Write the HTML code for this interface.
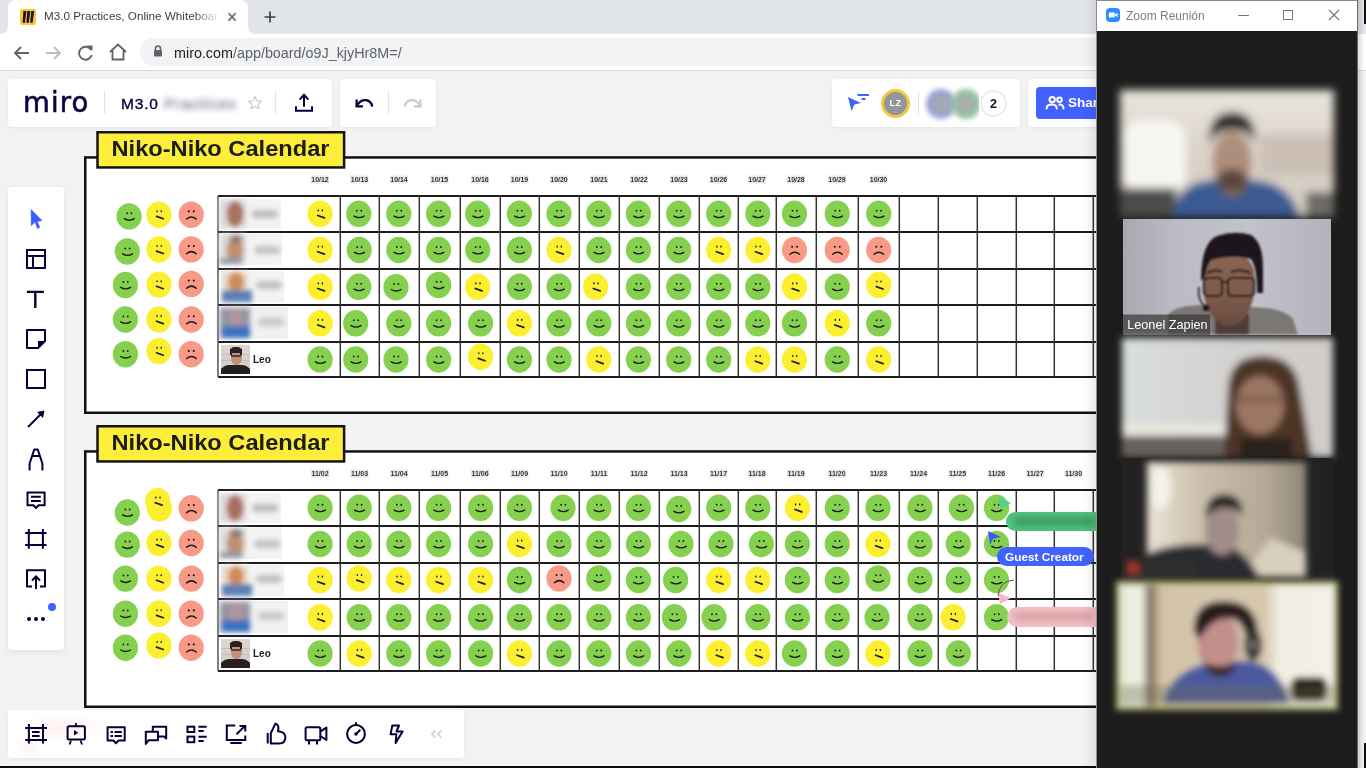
<!DOCTYPE html>
<html><head><meta charset="utf-8"><title>Miro board</title><style>
*{box-sizing:border-box}
html,body{margin:0;padding:0;overflow:hidden}
body{width:1366px;height:768px;overflow:hidden;position:relative;background:#f2f2f2;font-family:"Liberation Sans",Arial,sans-serif}
.a{position:absolute}
.pn{position:absolute;background:#fff;border-radius:4px;box-shadow:0 1px 3px rgba(0,0,0,.06)}
.ic{position:absolute;overflow:visible}
.bl{position:absolute;filter:blur(3px)}
</style></head><body>
<svg width="1366" height="768" style="position:absolute;left:0;top:0"><rect x="85.25" y="157.45" width="1100" height="255.3" fill="#fff" stroke="#111" stroke-width="2.5"/><rect x="97.5" y="132.25" width="246.6" height="35.2" fill="#fcee3b" stroke="#141414" stroke-width="2.5"/><text x="111.5" y="156" font-family="Liberation Sans, sans-serif" font-weight="bold" font-size="21.5" fill="#1c1c18" textLength="218" lengthAdjust="spacingAndGlyphs">Niko-Niko Calendar</text><rect x="311.0" y="175.5" width="18" height="8" fill="#e9e9e9"/><text x="320.0" y="182.3" text-anchor="middle" font-family="Liberation Sans, sans-serif" font-weight="bold" font-size="7" fill="#333">10/12</text><rect x="350.5" y="175.5" width="18" height="8" fill="#e9e9e9"/><text x="359.5" y="182.3" text-anchor="middle" font-family="Liberation Sans, sans-serif" font-weight="bold" font-size="7" fill="#333">10/13</text><rect x="390.0" y="175.5" width="18" height="8" fill="#e9e9e9"/><text x="399.0" y="182.3" text-anchor="middle" font-family="Liberation Sans, sans-serif" font-weight="bold" font-size="7" fill="#333">10/14</text><rect x="430.5" y="175.5" width="18" height="8" fill="#e9e9e9"/><text x="439.5" y="182.3" text-anchor="middle" font-family="Liberation Sans, sans-serif" font-weight="bold" font-size="7" fill="#333">10/15</text><rect x="471.0" y="175.5" width="18" height="8" fill="#e9e9e9"/><text x="480.0" y="182.3" text-anchor="middle" font-family="Liberation Sans, sans-serif" font-weight="bold" font-size="7" fill="#333">10/16</text><rect x="510.5" y="175.5" width="18" height="8" fill="#e9e9e9"/><text x="519.5" y="182.3" text-anchor="middle" font-family="Liberation Sans, sans-serif" font-weight="bold" font-size="7" fill="#333">10/19</text><rect x="550.0" y="175.5" width="18" height="8" fill="#e9e9e9"/><text x="559.0" y="182.3" text-anchor="middle" font-family="Liberation Sans, sans-serif" font-weight="bold" font-size="7" fill="#333">10/20</text><rect x="590.0" y="175.5" width="18" height="8" fill="#e9e9e9"/><text x="599.0" y="182.3" text-anchor="middle" font-family="Liberation Sans, sans-serif" font-weight="bold" font-size="7" fill="#333">10/21</text><rect x="630.0" y="175.5" width="18" height="8" fill="#e9e9e9"/><text x="639.0" y="182.3" text-anchor="middle" font-family="Liberation Sans, sans-serif" font-weight="bold" font-size="7" fill="#333">10/22</text><rect x="670.0" y="175.5" width="18" height="8" fill="#e9e9e9"/><text x="679.0" y="182.3" text-anchor="middle" font-family="Liberation Sans, sans-serif" font-weight="bold" font-size="7" fill="#333">10/23</text><rect x="709.5" y="175.5" width="18" height="8" fill="#e9e9e9"/><text x="718.5" y="182.3" text-anchor="middle" font-family="Liberation Sans, sans-serif" font-weight="bold" font-size="7" fill="#333">10/26</text><rect x="748.0" y="175.5" width="18" height="8" fill="#e9e9e9"/><text x="757.0" y="182.3" text-anchor="middle" font-family="Liberation Sans, sans-serif" font-weight="bold" font-size="7" fill="#333">10/27</text><rect x="787.0" y="175.5" width="18" height="8" fill="#e9e9e9"/><text x="796.0" y="182.3" text-anchor="middle" font-family="Liberation Sans, sans-serif" font-weight="bold" font-size="7" fill="#333">10/28</text><rect x="828.0" y="175.5" width="18" height="8" fill="#e9e9e9"/><text x="837.0" y="182.3" text-anchor="middle" font-family="Liberation Sans, sans-serif" font-weight="bold" font-size="7" fill="#333">10/29</text><rect x="869.5" y="175.5" width="18" height="8" fill="#e9e9e9"/><text x="878.5" y="182.3" text-anchor="middle" font-family="Liberation Sans, sans-serif" font-weight="bold" font-size="7" fill="#333">10/30</text><line x1="218" y1="196" x2="1100" y2="196" stroke="#1c1c1c" stroke-width="1.8"/><line x1="218" y1="232" x2="1100" y2="232" stroke="#1c1c1c" stroke-width="1.8"/><line x1="218" y1="269" x2="1100" y2="269" stroke="#1c1c1c" stroke-width="1.8"/><line x1="218" y1="305" x2="1100" y2="305" stroke="#1c1c1c" stroke-width="1.8"/><line x1="218" y1="342" x2="1100" y2="342" stroke="#1c1c1c" stroke-width="1.8"/><line x1="218" y1="377" x2="1100" y2="377" stroke="#1c1c1c" stroke-width="1.8"/><line x1="218" y1="196" x2="218" y2="377" stroke="#555" stroke-width="1.5"/><line x1="340.3" y1="196" x2="340.3" y2="377" stroke="#333" stroke-width="1.5"/><line x1="379.3" y1="196" x2="379.3" y2="377" stroke="#333" stroke-width="1.5"/><line x1="419.3" y1="196" x2="419.3" y2="377" stroke="#333" stroke-width="1.5"/><line x1="460.3" y1="196" x2="460.3" y2="377" stroke="#333" stroke-width="1.5"/><line x1="500.3" y1="196" x2="500.3" y2="377" stroke="#333" stroke-width="1.5"/><line x1="539.3" y1="196" x2="539.3" y2="377" stroke="#333" stroke-width="1.5"/><line x1="579.3" y1="196" x2="579.3" y2="377" stroke="#333" stroke-width="1.5"/><line x1="619.3" y1="196" x2="619.3" y2="377" stroke="#333" stroke-width="1.5"/><line x1="659.3" y1="196" x2="659.3" y2="377" stroke="#333" stroke-width="1.5"/><line x1="699.3" y1="196" x2="699.3" y2="377" stroke="#333" stroke-width="1.5"/><line x1="738.3" y1="196" x2="738.3" y2="377" stroke="#333" stroke-width="1.5"/><line x1="776.3" y1="196" x2="776.3" y2="377" stroke="#333" stroke-width="1.5"/><line x1="816.3" y1="196" x2="816.3" y2="377" stroke="#333" stroke-width="1.5"/><line x1="858.3" y1="196" x2="858.3" y2="377" stroke="#333" stroke-width="1.5"/><line x1="899.3" y1="196" x2="899.3" y2="377" stroke="#333" stroke-width="1.5"/><line x1="938.3" y1="196" x2="938.3" y2="377" stroke="#333" stroke-width="1.5"/><line x1="977.3" y1="196" x2="977.3" y2="377" stroke="#333" stroke-width="1.5"/><line x1="1016.3" y1="196" x2="1016.3" y2="377" stroke="#333" stroke-width="1.5"/><line x1="1054.3" y1="196" x2="1054.3" y2="377" stroke="#333" stroke-width="1.5"/><line x1="1093.3" y1="196" x2="1093.3" y2="377" stroke="#333" stroke-width="1.5"/><ellipse cx="320.1" cy="213.8" rx="12.6" ry="13.2" fill="#fcef2f"/><ellipse cx="318.3" cy="210.4" rx="0.75" ry="1.05" fill="#1c1c1c"/><ellipse cx="322.4" cy="210.4" rx="0.75" ry="1.05" fill="#1c1c1c"/><path d="M317.7 215.5L324.5 217.9" stroke="#1c1c1c" stroke-width="1.7" fill="none" stroke-linecap="round"/><ellipse cx="358.8" cy="213.8" rx="12.6" ry="13.2" fill="#85d14f"/><ellipse cx="356.8" cy="210.7" rx="0.9" ry="1.0" fill="#1c1c1c"/><ellipse cx="361.2" cy="210.7" rx="0.9" ry="1.0" fill="#1c1c1c"/><path d="M354.1 216.1Q359.0 219.2 364.0 216.1" stroke="#1c1c1c" stroke-width="1.4" fill="none" stroke-linecap="round"/><ellipse cx="398.8" cy="213.8" rx="12.6" ry="13.2" fill="#85d14f"/><ellipse cx="396.8" cy="210.7" rx="0.9" ry="1.0" fill="#1c1c1c"/><ellipse cx="401.2" cy="210.7" rx="0.9" ry="1.0" fill="#1c1c1c"/><path d="M394.1 216.1Q399.0 219.2 404.0 216.1" stroke="#1c1c1c" stroke-width="1.4" fill="none" stroke-linecap="round"/><ellipse cx="438.6" cy="213.8" rx="12.6" ry="13.2" fill="#85d14f"/><ellipse cx="436.6" cy="210.7" rx="0.9" ry="1.0" fill="#1c1c1c"/><ellipse cx="441.0" cy="210.7" rx="0.9" ry="1.0" fill="#1c1c1c"/><path d="M433.9 216.1Q438.8 219.2 443.8 216.1" stroke="#1c1c1c" stroke-width="1.4" fill="none" stroke-linecap="round"/><ellipse cx="477.7" cy="213.8" rx="12.6" ry="13.2" fill="#85d14f"/><ellipse cx="475.7" cy="210.7" rx="0.9" ry="1.0" fill="#1c1c1c"/><ellipse cx="480.1" cy="210.7" rx="0.9" ry="1.0" fill="#1c1c1c"/><path d="M473.0 216.1Q477.9 219.2 482.9 216.1" stroke="#1c1c1c" stroke-width="1.4" fill="none" stroke-linecap="round"/><ellipse cx="519.4" cy="213.8" rx="12.6" ry="13.2" fill="#85d14f"/><ellipse cx="517.4" cy="210.7" rx="0.9" ry="1.0" fill="#1c1c1c"/><ellipse cx="521.8" cy="210.7" rx="0.9" ry="1.0" fill="#1c1c1c"/><path d="M514.7 216.1Q519.6 219.2 524.6 216.1" stroke="#1c1c1c" stroke-width="1.4" fill="none" stroke-linecap="round"/><ellipse cx="559.0" cy="213.8" rx="12.6" ry="13.2" fill="#85d14f"/><ellipse cx="557.0" cy="210.7" rx="0.9" ry="1.0" fill="#1c1c1c"/><ellipse cx="561.4" cy="210.7" rx="0.9" ry="1.0" fill="#1c1c1c"/><path d="M554.3 216.1Q559.2 219.2 564.2 216.1" stroke="#1c1c1c" stroke-width="1.4" fill="none" stroke-linecap="round"/><ellipse cx="598.8" cy="213.8" rx="12.6" ry="13.2" fill="#85d14f"/><ellipse cx="596.8" cy="210.7" rx="0.9" ry="1.0" fill="#1c1c1c"/><ellipse cx="601.2" cy="210.7" rx="0.9" ry="1.0" fill="#1c1c1c"/><path d="M594.1 216.1Q599.0 219.2 604.0 216.1" stroke="#1c1c1c" stroke-width="1.4" fill="none" stroke-linecap="round"/><ellipse cx="638.4" cy="213.8" rx="12.6" ry="13.2" fill="#85d14f"/><ellipse cx="636.4" cy="210.7" rx="0.9" ry="1.0" fill="#1c1c1c"/><ellipse cx="640.8" cy="210.7" rx="0.9" ry="1.0" fill="#1c1c1c"/><path d="M633.7 216.1Q638.6 219.2 643.6 216.1" stroke="#1c1c1c" stroke-width="1.4" fill="none" stroke-linecap="round"/><ellipse cx="678.7" cy="213.8" rx="12.6" ry="13.2" fill="#85d14f"/><ellipse cx="676.7" cy="210.7" rx="0.9" ry="1.0" fill="#1c1c1c"/><ellipse cx="681.1" cy="210.7" rx="0.9" ry="1.0" fill="#1c1c1c"/><path d="M674.0 216.1Q678.9 219.2 683.9 216.1" stroke="#1c1c1c" stroke-width="1.4" fill="none" stroke-linecap="round"/><ellipse cx="718.7" cy="213.8" rx="12.6" ry="13.2" fill="#85d14f"/><ellipse cx="716.7" cy="210.7" rx="0.9" ry="1.0" fill="#1c1c1c"/><ellipse cx="721.1" cy="210.7" rx="0.9" ry="1.0" fill="#1c1c1c"/><path d="M714.0 216.1Q718.9 219.2 723.9 216.1" stroke="#1c1c1c" stroke-width="1.4" fill="none" stroke-linecap="round"/><ellipse cx="757.8" cy="213.8" rx="12.6" ry="13.2" fill="#85d14f"/><ellipse cx="755.8" cy="210.7" rx="0.9" ry="1.0" fill="#1c1c1c"/><ellipse cx="760.2" cy="210.7" rx="0.9" ry="1.0" fill="#1c1c1c"/><path d="M753.1 216.1Q758.0 219.2 763.0 216.1" stroke="#1c1c1c" stroke-width="1.4" fill="none" stroke-linecap="round"/><ellipse cx="794.5" cy="213.8" rx="12.6" ry="13.2" fill="#85d14f"/><ellipse cx="792.5" cy="210.7" rx="0.9" ry="1.0" fill="#1c1c1c"/><ellipse cx="796.9" cy="210.7" rx="0.9" ry="1.0" fill="#1c1c1c"/><path d="M789.8 216.1Q794.7 219.2 799.7 216.1" stroke="#1c1c1c" stroke-width="1.4" fill="none" stroke-linecap="round"/><ellipse cx="837.2" cy="213.8" rx="12.6" ry="13.2" fill="#85d14f"/><ellipse cx="835.2" cy="210.7" rx="0.9" ry="1.0" fill="#1c1c1c"/><ellipse cx="839.6" cy="210.7" rx="0.9" ry="1.0" fill="#1c1c1c"/><path d="M832.5 216.1Q837.4 219.2 842.4 216.1" stroke="#1c1c1c" stroke-width="1.4" fill="none" stroke-linecap="round"/><ellipse cx="878.7" cy="213.8" rx="12.6" ry="13.2" fill="#85d14f"/><ellipse cx="876.7" cy="210.7" rx="0.9" ry="1.0" fill="#1c1c1c"/><ellipse cx="881.1" cy="210.7" rx="0.9" ry="1.0" fill="#1c1c1c"/><path d="M874.0 216.1Q878.9 219.2 883.9 216.1" stroke="#1c1c1c" stroke-width="1.4" fill="none" stroke-linecap="round"/><ellipse cx="320.1" cy="250.0" rx="12.6" ry="13.2" fill="#fcef2f"/><ellipse cx="318.3" cy="246.6" rx="0.75" ry="1.05" fill="#1c1c1c"/><ellipse cx="322.4" cy="246.6" rx="0.75" ry="1.05" fill="#1c1c1c"/><path d="M317.7 251.7L324.5 254.1" stroke="#1c1c1c" stroke-width="1.7" fill="none" stroke-linecap="round"/><ellipse cx="359.2" cy="250.0" rx="12.6" ry="13.2" fill="#85d14f"/><ellipse cx="357.2" cy="246.9" rx="0.9" ry="1.0" fill="#1c1c1c"/><ellipse cx="361.6" cy="246.9" rx="0.9" ry="1.0" fill="#1c1c1c"/><path d="M354.5 252.3Q359.4 255.4 364.4 252.3" stroke="#1c1c1c" stroke-width="1.4" fill="none" stroke-linecap="round"/><ellipse cx="398.8" cy="250.0" rx="12.6" ry="13.2" fill="#85d14f"/><ellipse cx="396.8" cy="246.9" rx="0.9" ry="1.0" fill="#1c1c1c"/><ellipse cx="401.2" cy="246.9" rx="0.9" ry="1.0" fill="#1c1c1c"/><path d="M394.1 252.3Q399.0 255.4 404.0 252.3" stroke="#1c1c1c" stroke-width="1.4" fill="none" stroke-linecap="round"/><ellipse cx="438.6" cy="250.0" rx="12.6" ry="13.2" fill="#85d14f"/><ellipse cx="436.6" cy="246.9" rx="0.9" ry="1.0" fill="#1c1c1c"/><ellipse cx="441.0" cy="246.9" rx="0.9" ry="1.0" fill="#1c1c1c"/><path d="M433.9 252.3Q438.8 255.4 443.8 252.3" stroke="#1c1c1c" stroke-width="1.4" fill="none" stroke-linecap="round"/><ellipse cx="477.7" cy="250.0" rx="12.6" ry="13.2" fill="#85d14f"/><ellipse cx="475.7" cy="246.9" rx="0.9" ry="1.0" fill="#1c1c1c"/><ellipse cx="480.1" cy="246.9" rx="0.9" ry="1.0" fill="#1c1c1c"/><path d="M473.0 252.3Q477.9 255.4 482.9 252.3" stroke="#1c1c1c" stroke-width="1.4" fill="none" stroke-linecap="round"/><ellipse cx="519.4" cy="250.0" rx="12.6" ry="13.2" fill="#85d14f"/><ellipse cx="517.4" cy="246.9" rx="0.9" ry="1.0" fill="#1c1c1c"/><ellipse cx="521.8" cy="246.9" rx="0.9" ry="1.0" fill="#1c1c1c"/><path d="M514.7 252.3Q519.6 255.4 524.6 252.3" stroke="#1c1c1c" stroke-width="1.4" fill="none" stroke-linecap="round"/><ellipse cx="559.0" cy="250.0" rx="12.6" ry="13.2" fill="#fcef2f"/><ellipse cx="557.2" cy="246.6" rx="0.75" ry="1.05" fill="#1c1c1c"/><ellipse cx="561.3" cy="246.6" rx="0.75" ry="1.05" fill="#1c1c1c"/><path d="M556.6 251.7L563.4 254.1" stroke="#1c1c1c" stroke-width="1.7" fill="none" stroke-linecap="round"/><ellipse cx="598.8" cy="250.0" rx="12.6" ry="13.2" fill="#85d14f"/><ellipse cx="596.8" cy="246.9" rx="0.9" ry="1.0" fill="#1c1c1c"/><ellipse cx="601.2" cy="246.9" rx="0.9" ry="1.0" fill="#1c1c1c"/><path d="M594.1 252.3Q599.0 255.4 604.0 252.3" stroke="#1c1c1c" stroke-width="1.4" fill="none" stroke-linecap="round"/><ellipse cx="638.4" cy="250.0" rx="12.6" ry="13.2" fill="#85d14f"/><ellipse cx="636.4" cy="246.9" rx="0.9" ry="1.0" fill="#1c1c1c"/><ellipse cx="640.8" cy="246.9" rx="0.9" ry="1.0" fill="#1c1c1c"/><path d="M633.7 252.3Q638.6 255.4 643.6 252.3" stroke="#1c1c1c" stroke-width="1.4" fill="none" stroke-linecap="round"/><ellipse cx="678.7" cy="250.0" rx="12.6" ry="13.2" fill="#85d14f"/><ellipse cx="676.7" cy="246.9" rx="0.9" ry="1.0" fill="#1c1c1c"/><ellipse cx="681.1" cy="246.9" rx="0.9" ry="1.0" fill="#1c1c1c"/><path d="M674.0 252.3Q678.9 255.4 683.9 252.3" stroke="#1c1c1c" stroke-width="1.4" fill="none" stroke-linecap="round"/><ellipse cx="718.7" cy="250.0" rx="12.6" ry="13.2" fill="#fcef2f"/><ellipse cx="716.9" cy="246.6" rx="0.75" ry="1.05" fill="#1c1c1c"/><ellipse cx="721.0" cy="246.6" rx="0.75" ry="1.05" fill="#1c1c1c"/><path d="M716.3 251.7L723.1 254.1" stroke="#1c1c1c" stroke-width="1.7" fill="none" stroke-linecap="round"/><ellipse cx="757.8" cy="250.0" rx="12.6" ry="13.2" fill="#fcef2f"/><ellipse cx="756.0" cy="246.6" rx="0.75" ry="1.05" fill="#1c1c1c"/><ellipse cx="760.1" cy="246.6" rx="0.75" ry="1.05" fill="#1c1c1c"/><path d="M755.4 251.7L762.2 254.1" stroke="#1c1c1c" stroke-width="1.7" fill="none" stroke-linecap="round"/><ellipse cx="794.5" cy="250.0" rx="12.6" ry="13.2" fill="#f89a87"/><circle cx="792.1" cy="246.7" r="1.05" fill="#1c1c1c"/><circle cx="797.1" cy="246.7" r="1.05" fill="#1c1c1c"/><path d="M789.9 254.3Q794.7 250.2 799.5 254.3" stroke="#1c1c1c" stroke-width="1.5" fill="none" stroke-linecap="round"/><ellipse cx="837.2" cy="250.0" rx="12.6" ry="13.2" fill="#f89a87"/><circle cx="834.8" cy="246.7" r="1.05" fill="#1c1c1c"/><circle cx="839.8" cy="246.7" r="1.05" fill="#1c1c1c"/><path d="M832.6 254.3Q837.4 250.2 842.2 254.3" stroke="#1c1c1c" stroke-width="1.5" fill="none" stroke-linecap="round"/><ellipse cx="878.7" cy="250.0" rx="12.6" ry="13.2" fill="#f89a87"/><circle cx="876.3" cy="246.7" r="1.05" fill="#1c1c1c"/><circle cx="881.3" cy="246.7" r="1.05" fill="#1c1c1c"/><path d="M874.1 254.3Q878.9 250.2 883.7 254.3" stroke="#1c1c1c" stroke-width="1.5" fill="none" stroke-linecap="round"/><ellipse cx="320.1" cy="286.8" rx="12.6" ry="13.2" fill="#fcef2f"/><ellipse cx="318.3" cy="283.4" rx="0.75" ry="1.05" fill="#1c1c1c"/><ellipse cx="322.4" cy="283.4" rx="0.75" ry="1.05" fill="#1c1c1c"/><path d="M317.7 288.5L324.5 290.9" stroke="#1c1c1c" stroke-width="1.7" fill="none" stroke-linecap="round"/><ellipse cx="358.8" cy="286.8" rx="12.6" ry="13.2" fill="#85d14f"/><ellipse cx="356.8" cy="283.7" rx="0.9" ry="1.0" fill="#1c1c1c"/><ellipse cx="361.2" cy="283.7" rx="0.9" ry="1.0" fill="#1c1c1c"/><path d="M354.1 289.1Q359.0 292.2 364.0 289.1" stroke="#1c1c1c" stroke-width="1.4" fill="none" stroke-linecap="round"/><ellipse cx="396.0" cy="287.2" rx="12.6" ry="13.2" fill="#85d14f"/><ellipse cx="394.0" cy="284.1" rx="0.9" ry="1.0" fill="#1c1c1c"/><ellipse cx="398.4" cy="284.1" rx="0.9" ry="1.0" fill="#1c1c1c"/><path d="M391.3 289.5Q396.2 292.6 401.2 289.5" stroke="#1c1c1c" stroke-width="1.4" fill="none" stroke-linecap="round"/><ellipse cx="438.6" cy="284.9" rx="12.6" ry="13.2" fill="#85d14f"/><ellipse cx="436.6" cy="281.8" rx="0.9" ry="1.0" fill="#1c1c1c"/><ellipse cx="441.0" cy="281.8" rx="0.9" ry="1.0" fill="#1c1c1c"/><path d="M433.9 287.2Q438.8 290.3 443.8 287.2" stroke="#1c1c1c" stroke-width="1.4" fill="none" stroke-linecap="round"/><ellipse cx="477.7" cy="286.8" rx="12.6" ry="13.2" fill="#fcef2f"/><ellipse cx="475.9" cy="283.4" rx="0.75" ry="1.05" fill="#1c1c1c"/><ellipse cx="480.0" cy="283.4" rx="0.75" ry="1.05" fill="#1c1c1c"/><path d="M475.3 288.5L482.1 290.9" stroke="#1c1c1c" stroke-width="1.7" fill="none" stroke-linecap="round"/><ellipse cx="519.4" cy="286.8" rx="12.6" ry="13.2" fill="#85d14f"/><ellipse cx="517.4" cy="283.7" rx="0.9" ry="1.0" fill="#1c1c1c"/><ellipse cx="521.8" cy="283.7" rx="0.9" ry="1.0" fill="#1c1c1c"/><path d="M514.7 289.1Q519.6 292.2 524.6 289.1" stroke="#1c1c1c" stroke-width="1.4" fill="none" stroke-linecap="round"/><ellipse cx="559.0" cy="286.8" rx="12.6" ry="13.2" fill="#85d14f"/><ellipse cx="557.0" cy="283.7" rx="0.9" ry="1.0" fill="#1c1c1c"/><ellipse cx="561.4" cy="283.7" rx="0.9" ry="1.0" fill="#1c1c1c"/><path d="M554.3 289.1Q559.2 292.2 564.2 289.1" stroke="#1c1c1c" stroke-width="1.4" fill="none" stroke-linecap="round"/><ellipse cx="595.7" cy="286.8" rx="12.6" ry="13.2" fill="#fcef2f"/><ellipse cx="593.9" cy="283.4" rx="0.75" ry="1.05" fill="#1c1c1c"/><ellipse cx="598.0" cy="283.4" rx="0.75" ry="1.05" fill="#1c1c1c"/><path d="M593.3 288.5L600.1 290.9" stroke="#1c1c1c" stroke-width="1.7" fill="none" stroke-linecap="round"/><ellipse cx="638.4" cy="286.8" rx="12.6" ry="13.2" fill="#85d14f"/><ellipse cx="636.4" cy="283.7" rx="0.9" ry="1.0" fill="#1c1c1c"/><ellipse cx="640.8" cy="283.7" rx="0.9" ry="1.0" fill="#1c1c1c"/><path d="M633.7 289.1Q638.6 292.2 643.6 289.1" stroke="#1c1c1c" stroke-width="1.4" fill="none" stroke-linecap="round"/><ellipse cx="678.7" cy="286.8" rx="12.6" ry="13.2" fill="#85d14f"/><ellipse cx="676.7" cy="283.7" rx="0.9" ry="1.0" fill="#1c1c1c"/><ellipse cx="681.1" cy="283.7" rx="0.9" ry="1.0" fill="#1c1c1c"/><path d="M674.0 289.1Q678.9 292.2 683.9 289.1" stroke="#1c1c1c" stroke-width="1.4" fill="none" stroke-linecap="round"/><ellipse cx="718.7" cy="286.8" rx="12.6" ry="13.2" fill="#85d14f"/><ellipse cx="716.7" cy="283.7" rx="0.9" ry="1.0" fill="#1c1c1c"/><ellipse cx="721.1" cy="283.7" rx="0.9" ry="1.0" fill="#1c1c1c"/><path d="M714.0 289.1Q718.9 292.2 723.9 289.1" stroke="#1c1c1c" stroke-width="1.4" fill="none" stroke-linecap="round"/><ellipse cx="757.8" cy="286.8" rx="12.6" ry="13.2" fill="#85d14f"/><ellipse cx="755.8" cy="283.7" rx="0.9" ry="1.0" fill="#1c1c1c"/><ellipse cx="760.2" cy="283.7" rx="0.9" ry="1.0" fill="#1c1c1c"/><path d="M753.1 289.1Q758.0 292.2 763.0 289.1" stroke="#1c1c1c" stroke-width="1.4" fill="none" stroke-linecap="round"/><ellipse cx="794.5" cy="286.8" rx="12.6" ry="13.2" fill="#fcef2f"/><ellipse cx="792.7" cy="283.4" rx="0.75" ry="1.05" fill="#1c1c1c"/><ellipse cx="796.8" cy="283.4" rx="0.75" ry="1.05" fill="#1c1c1c"/><path d="M792.1 288.5L798.9 290.9" stroke="#1c1c1c" stroke-width="1.7" fill="none" stroke-linecap="round"/><ellipse cx="837.2" cy="286.8" rx="12.6" ry="13.2" fill="#85d14f"/><ellipse cx="835.2" cy="283.7" rx="0.9" ry="1.0" fill="#1c1c1c"/><ellipse cx="839.6" cy="283.7" rx="0.9" ry="1.0" fill="#1c1c1c"/><path d="M832.5 289.1Q837.4 292.2 842.4 289.1" stroke="#1c1c1c" stroke-width="1.4" fill="none" stroke-linecap="round"/><ellipse cx="878.7" cy="284.9" rx="12.6" ry="13.2" fill="#fcef2f"/><ellipse cx="876.9" cy="281.5" rx="0.75" ry="1.05" fill="#1c1c1c"/><ellipse cx="881.0" cy="281.5" rx="0.75" ry="1.05" fill="#1c1c1c"/><path d="M876.3 286.6L883.1 289.0" stroke="#1c1c1c" stroke-width="1.7" fill="none" stroke-linecap="round"/><ellipse cx="320.1" cy="323.3" rx="12.6" ry="13.2" fill="#fcef2f"/><ellipse cx="318.3" cy="319.9" rx="0.75" ry="1.05" fill="#1c1c1c"/><ellipse cx="322.4" cy="319.9" rx="0.75" ry="1.05" fill="#1c1c1c"/><path d="M317.7 325.0L324.5 327.4" stroke="#1c1c1c" stroke-width="1.7" fill="none" stroke-linecap="round"/><ellipse cx="355.7" cy="323.3" rx="12.6" ry="13.2" fill="#85d14f"/><ellipse cx="353.7" cy="320.2" rx="0.9" ry="1.0" fill="#1c1c1c"/><ellipse cx="358.1" cy="320.2" rx="0.9" ry="1.0" fill="#1c1c1c"/><path d="M351.0 325.6Q355.9 328.7 360.9 325.6" stroke="#1c1c1c" stroke-width="1.4" fill="none" stroke-linecap="round"/><ellipse cx="398.8" cy="323.3" rx="12.6" ry="13.2" fill="#85d14f"/><ellipse cx="396.8" cy="320.2" rx="0.9" ry="1.0" fill="#1c1c1c"/><ellipse cx="401.2" cy="320.2" rx="0.9" ry="1.0" fill="#1c1c1c"/><path d="M394.1 325.6Q399.0 328.7 404.0 325.6" stroke="#1c1c1c" stroke-width="1.4" fill="none" stroke-linecap="round"/><ellipse cx="438.6" cy="323.3" rx="12.6" ry="13.2" fill="#85d14f"/><ellipse cx="436.6" cy="320.2" rx="0.9" ry="1.0" fill="#1c1c1c"/><ellipse cx="441.0" cy="320.2" rx="0.9" ry="1.0" fill="#1c1c1c"/><path d="M433.9 325.6Q438.8 328.7 443.8 325.6" stroke="#1c1c1c" stroke-width="1.4" fill="none" stroke-linecap="round"/><ellipse cx="480.6" cy="323.3" rx="12.6" ry="13.2" fill="#85d14f"/><ellipse cx="478.6" cy="320.2" rx="0.9" ry="1.0" fill="#1c1c1c"/><ellipse cx="483.0" cy="320.2" rx="0.9" ry="1.0" fill="#1c1c1c"/><path d="M475.9 325.6Q480.8 328.7 485.8 325.6" stroke="#1c1c1c" stroke-width="1.4" fill="none" stroke-linecap="round"/><ellipse cx="519.4" cy="323.3" rx="12.6" ry="13.2" fill="#fcef2f"/><ellipse cx="517.6" cy="319.9" rx="0.75" ry="1.05" fill="#1c1c1c"/><ellipse cx="521.7" cy="319.9" rx="0.75" ry="1.05" fill="#1c1c1c"/><path d="M517.0 325.0L523.8 327.4" stroke="#1c1c1c" stroke-width="1.7" fill="none" stroke-linecap="round"/><ellipse cx="559.0" cy="323.3" rx="12.6" ry="13.2" fill="#85d14f"/><ellipse cx="557.0" cy="320.2" rx="0.9" ry="1.0" fill="#1c1c1c"/><ellipse cx="561.4" cy="320.2" rx="0.9" ry="1.0" fill="#1c1c1c"/><path d="M554.3 325.6Q559.2 328.7 564.2 325.6" stroke="#1c1c1c" stroke-width="1.4" fill="none" stroke-linecap="round"/><ellipse cx="598.8" cy="323.3" rx="12.6" ry="13.2" fill="#85d14f"/><ellipse cx="596.8" cy="320.2" rx="0.9" ry="1.0" fill="#1c1c1c"/><ellipse cx="601.2" cy="320.2" rx="0.9" ry="1.0" fill="#1c1c1c"/><path d="M594.1 325.6Q599.0 328.7 604.0 325.6" stroke="#1c1c1c" stroke-width="1.4" fill="none" stroke-linecap="round"/><ellipse cx="638.4" cy="323.3" rx="12.6" ry="13.2" fill="#85d14f"/><ellipse cx="636.4" cy="320.2" rx="0.9" ry="1.0" fill="#1c1c1c"/><ellipse cx="640.8" cy="320.2" rx="0.9" ry="1.0" fill="#1c1c1c"/><path d="M633.7 325.6Q638.6 328.7 643.6 325.6" stroke="#1c1c1c" stroke-width="1.4" fill="none" stroke-linecap="round"/><ellipse cx="678.7" cy="323.3" rx="12.6" ry="13.2" fill="#85d14f"/><ellipse cx="676.7" cy="320.2" rx="0.9" ry="1.0" fill="#1c1c1c"/><ellipse cx="681.1" cy="320.2" rx="0.9" ry="1.0" fill="#1c1c1c"/><path d="M674.0 325.6Q678.9 328.7 683.9 325.6" stroke="#1c1c1c" stroke-width="1.4" fill="none" stroke-linecap="round"/><ellipse cx="718.7" cy="323.3" rx="12.6" ry="13.2" fill="#85d14f"/><ellipse cx="716.7" cy="320.2" rx="0.9" ry="1.0" fill="#1c1c1c"/><ellipse cx="721.1" cy="320.2" rx="0.9" ry="1.0" fill="#1c1c1c"/><path d="M714.0 325.6Q718.9 328.7 723.9 325.6" stroke="#1c1c1c" stroke-width="1.4" fill="none" stroke-linecap="round"/><ellipse cx="757.8" cy="323.3" rx="12.6" ry="13.2" fill="#85d14f"/><ellipse cx="755.8" cy="320.2" rx="0.9" ry="1.0" fill="#1c1c1c"/><ellipse cx="760.2" cy="320.2" rx="0.9" ry="1.0" fill="#1c1c1c"/><path d="M753.1 325.6Q758.0 328.7 763.0 325.6" stroke="#1c1c1c" stroke-width="1.4" fill="none" stroke-linecap="round"/><ellipse cx="794.5" cy="323.3" rx="12.6" ry="13.2" fill="#85d14f"/><ellipse cx="792.5" cy="320.2" rx="0.9" ry="1.0" fill="#1c1c1c"/><ellipse cx="796.9" cy="320.2" rx="0.9" ry="1.0" fill="#1c1c1c"/><path d="M789.8 325.6Q794.7 328.7 799.7 325.6" stroke="#1c1c1c" stroke-width="1.4" fill="none" stroke-linecap="round"/><ellipse cx="837.2" cy="323.3" rx="12.6" ry="13.2" fill="#fcef2f"/><ellipse cx="835.4" cy="319.9" rx="0.75" ry="1.05" fill="#1c1c1c"/><ellipse cx="839.5" cy="319.9" rx="0.75" ry="1.05" fill="#1c1c1c"/><path d="M834.8 325.0L841.6 327.4" stroke="#1c1c1c" stroke-width="1.7" fill="none" stroke-linecap="round"/><ellipse cx="878.7" cy="323.3" rx="12.6" ry="13.2" fill="#85d14f"/><ellipse cx="876.7" cy="320.2" rx="0.9" ry="1.0" fill="#1c1c1c"/><ellipse cx="881.1" cy="320.2" rx="0.9" ry="1.0" fill="#1c1c1c"/><path d="M874.0 325.6Q878.9 328.7 883.9 325.6" stroke="#1c1c1c" stroke-width="1.4" fill="none" stroke-linecap="round"/><ellipse cx="320.1" cy="359.5" rx="12.6" ry="13.2" fill="#85d14f"/><ellipse cx="318.1" cy="356.4" rx="0.9" ry="1.0" fill="#1c1c1c"/><ellipse cx="322.5" cy="356.4" rx="0.9" ry="1.0" fill="#1c1c1c"/><path d="M315.4 361.8Q320.3 364.9 325.3 361.8" stroke="#1c1c1c" stroke-width="1.4" fill="none" stroke-linecap="round"/><ellipse cx="355.7" cy="359.5" rx="12.6" ry="13.2" fill="#85d14f"/><ellipse cx="353.7" cy="356.4" rx="0.9" ry="1.0" fill="#1c1c1c"/><ellipse cx="358.1" cy="356.4" rx="0.9" ry="1.0" fill="#1c1c1c"/><path d="M351.0 361.8Q355.9 364.9 360.9 361.8" stroke="#1c1c1c" stroke-width="1.4" fill="none" stroke-linecap="round"/><ellipse cx="396.0" cy="359.5" rx="12.6" ry="13.2" fill="#85d14f"/><ellipse cx="394.0" cy="356.4" rx="0.9" ry="1.0" fill="#1c1c1c"/><ellipse cx="398.4" cy="356.4" rx="0.9" ry="1.0" fill="#1c1c1c"/><path d="M391.3 361.8Q396.2 364.9 401.2 361.8" stroke="#1c1c1c" stroke-width="1.4" fill="none" stroke-linecap="round"/><ellipse cx="438.6" cy="359.5" rx="12.6" ry="13.2" fill="#85d14f"/><ellipse cx="436.6" cy="356.4" rx="0.9" ry="1.0" fill="#1c1c1c"/><ellipse cx="441.0" cy="356.4" rx="0.9" ry="1.0" fill="#1c1c1c"/><path d="M433.9 361.8Q438.8 364.9 443.8 361.8" stroke="#1c1c1c" stroke-width="1.4" fill="none" stroke-linecap="round"/><ellipse cx="480.6" cy="356.7" rx="12.6" ry="13.2" fill="#fcef2f"/><ellipse cx="478.8" cy="353.3" rx="0.75" ry="1.05" fill="#1c1c1c"/><ellipse cx="482.9" cy="353.3" rx="0.75" ry="1.05" fill="#1c1c1c"/><path d="M478.2 358.4L485.0 360.8" stroke="#1c1c1c" stroke-width="1.7" fill="none" stroke-linecap="round"/><ellipse cx="519.4" cy="359.5" rx="12.6" ry="13.2" fill="#85d14f"/><ellipse cx="517.4" cy="356.4" rx="0.9" ry="1.0" fill="#1c1c1c"/><ellipse cx="521.8" cy="356.4" rx="0.9" ry="1.0" fill="#1c1c1c"/><path d="M514.7 361.8Q519.6 364.9 524.6 361.8" stroke="#1c1c1c" stroke-width="1.4" fill="none" stroke-linecap="round"/><ellipse cx="559.0" cy="359.5" rx="12.6" ry="13.2" fill="#85d14f"/><ellipse cx="557.0" cy="356.4" rx="0.9" ry="1.0" fill="#1c1c1c"/><ellipse cx="561.4" cy="356.4" rx="0.9" ry="1.0" fill="#1c1c1c"/><path d="M554.3 361.8Q559.2 364.9 564.2 361.8" stroke="#1c1c1c" stroke-width="1.4" fill="none" stroke-linecap="round"/><ellipse cx="598.8" cy="359.5" rx="12.6" ry="13.2" fill="#fcef2f"/><ellipse cx="597.0" cy="356.1" rx="0.75" ry="1.05" fill="#1c1c1c"/><ellipse cx="601.1" cy="356.1" rx="0.75" ry="1.05" fill="#1c1c1c"/><path d="M596.4 361.2L603.2 363.6" stroke="#1c1c1c" stroke-width="1.7" fill="none" stroke-linecap="round"/><ellipse cx="638.4" cy="359.5" rx="12.6" ry="13.2" fill="#85d14f"/><ellipse cx="636.4" cy="356.4" rx="0.9" ry="1.0" fill="#1c1c1c"/><ellipse cx="640.8" cy="356.4" rx="0.9" ry="1.0" fill="#1c1c1c"/><path d="M633.7 361.8Q638.6 364.9 643.6 361.8" stroke="#1c1c1c" stroke-width="1.4" fill="none" stroke-linecap="round"/><ellipse cx="678.7" cy="359.5" rx="12.6" ry="13.2" fill="#85d14f"/><ellipse cx="676.7" cy="356.4" rx="0.9" ry="1.0" fill="#1c1c1c"/><ellipse cx="681.1" cy="356.4" rx="0.9" ry="1.0" fill="#1c1c1c"/><path d="M674.0 361.8Q678.9 364.9 683.9 361.8" stroke="#1c1c1c" stroke-width="1.4" fill="none" stroke-linecap="round"/><ellipse cx="718.7" cy="359.5" rx="12.6" ry="13.2" fill="#85d14f"/><ellipse cx="716.7" cy="356.4" rx="0.9" ry="1.0" fill="#1c1c1c"/><ellipse cx="721.1" cy="356.4" rx="0.9" ry="1.0" fill="#1c1c1c"/><path d="M714.0 361.8Q718.9 364.9 723.9 361.8" stroke="#1c1c1c" stroke-width="1.4" fill="none" stroke-linecap="round"/><ellipse cx="757.8" cy="359.5" rx="12.6" ry="13.2" fill="#fcef2f"/><ellipse cx="756.0" cy="356.1" rx="0.75" ry="1.05" fill="#1c1c1c"/><ellipse cx="760.1" cy="356.1" rx="0.75" ry="1.05" fill="#1c1c1c"/><path d="M755.4 361.2L762.2 363.6" stroke="#1c1c1c" stroke-width="1.7" fill="none" stroke-linecap="round"/><ellipse cx="794.5" cy="359.5" rx="12.6" ry="13.2" fill="#fcef2f"/><ellipse cx="792.7" cy="356.1" rx="0.75" ry="1.05" fill="#1c1c1c"/><ellipse cx="796.8" cy="356.1" rx="0.75" ry="1.05" fill="#1c1c1c"/><path d="M792.1 361.2L798.9 363.6" stroke="#1c1c1c" stroke-width="1.7" fill="none" stroke-linecap="round"/><ellipse cx="837.2" cy="359.5" rx="12.6" ry="13.2" fill="#85d14f"/><ellipse cx="835.2" cy="356.4" rx="0.9" ry="1.0" fill="#1c1c1c"/><ellipse cx="839.6" cy="356.4" rx="0.9" ry="1.0" fill="#1c1c1c"/><path d="M832.5 361.8Q837.4 364.9 842.4 361.8" stroke="#1c1c1c" stroke-width="1.4" fill="none" stroke-linecap="round"/><ellipse cx="878.7" cy="359.5" rx="12.6" ry="13.2" fill="#fcef2f"/><ellipse cx="876.9" cy="356.1" rx="0.75" ry="1.05" fill="#1c1c1c"/><ellipse cx="881.0" cy="356.1" rx="0.75" ry="1.05" fill="#1c1c1c"/><path d="M876.3 361.2L883.1 363.6" stroke="#1c1c1c" stroke-width="1.7" fill="none" stroke-linecap="round"/><ellipse cx="129.1" cy="216.4" rx="12.6" ry="13.2" fill="#85d14f"/><ellipse cx="127.1" cy="213.3" rx="0.9" ry="1.0" fill="#1c1c1c"/><ellipse cx="131.5" cy="213.3" rx="0.9" ry="1.0" fill="#1c1c1c"/><path d="M124.4 218.7Q129.3 221.8 134.3 218.7" stroke="#1c1c1c" stroke-width="1.4" fill="none" stroke-linecap="round"/><ellipse cx="158.9" cy="214.7" rx="12.6" ry="13.2" fill="#fcef2f"/><ellipse cx="157.1" cy="211.3" rx="0.75" ry="1.05" fill="#1c1c1c"/><ellipse cx="161.2" cy="211.3" rx="0.75" ry="1.05" fill="#1c1c1c"/><path d="M156.5 216.4L163.3 218.8" stroke="#1c1c1c" stroke-width="1.7" fill="none" stroke-linecap="round"/><ellipse cx="191.2" cy="214.7" rx="12.6" ry="13.2" fill="#f89a87"/><circle cx="188.8" cy="211.4" r="1.05" fill="#1c1c1c"/><circle cx="193.8" cy="211.4" r="1.05" fill="#1c1c1c"/><path d="M186.6 219.0Q191.4 214.9 196.2 219.0" stroke="#1c1c1c" stroke-width="1.5" fill="none" stroke-linecap="round"/><ellipse cx="127.3" cy="251.5" rx="12.6" ry="13.2" fill="#85d14f"/><ellipse cx="125.3" cy="248.4" rx="0.9" ry="1.0" fill="#1c1c1c"/><ellipse cx="129.7" cy="248.4" rx="0.9" ry="1.0" fill="#1c1c1c"/><path d="M122.6 253.8Q127.5 256.9 132.5 253.8" stroke="#1c1c1c" stroke-width="1.4" fill="none" stroke-linecap="round"/><ellipse cx="158.9" cy="249.4" rx="12.6" ry="13.2" fill="#fcef2f"/><ellipse cx="157.1" cy="246.0" rx="0.75" ry="1.05" fill="#1c1c1c"/><ellipse cx="161.2" cy="246.0" rx="0.75" ry="1.05" fill="#1c1c1c"/><path d="M156.5 251.1L163.3 253.5" stroke="#1c1c1c" stroke-width="1.7" fill="none" stroke-linecap="round"/><ellipse cx="191.2" cy="249.4" rx="12.6" ry="13.2" fill="#f89a87"/><circle cx="188.8" cy="246.1" r="1.05" fill="#1c1c1c"/><circle cx="193.8" cy="246.1" r="1.05" fill="#1c1c1c"/><path d="M186.6 253.7Q191.4 249.6 196.2 253.7" stroke="#1c1c1c" stroke-width="1.5" fill="none" stroke-linecap="round"/><ellipse cx="125.4" cy="285.0" rx="12.6" ry="13.2" fill="#85d14f"/><ellipse cx="123.4" cy="281.9" rx="0.9" ry="1.0" fill="#1c1c1c"/><ellipse cx="127.8" cy="281.9" rx="0.9" ry="1.0" fill="#1c1c1c"/><path d="M120.7 287.3Q125.6 290.4 130.6 287.3" stroke="#1c1c1c" stroke-width="1.4" fill="none" stroke-linecap="round"/><ellipse cx="158.9" cy="284.6" rx="12.6" ry="13.2" fill="#fcef2f"/><ellipse cx="157.1" cy="281.2" rx="0.75" ry="1.05" fill="#1c1c1c"/><ellipse cx="161.2" cy="281.2" rx="0.75" ry="1.05" fill="#1c1c1c"/><path d="M156.5 286.3L163.3 288.7" stroke="#1c1c1c" stroke-width="1.7" fill="none" stroke-linecap="round"/><ellipse cx="191.2" cy="283.9" rx="12.6" ry="13.2" fill="#f89a87"/><circle cx="188.8" cy="280.6" r="1.05" fill="#1c1c1c"/><circle cx="193.8" cy="280.6" r="1.05" fill="#1c1c1c"/><path d="M186.6 288.2Q191.4 284.1 196.2 288.2" stroke="#1c1c1c" stroke-width="1.5" fill="none" stroke-linecap="round"/><ellipse cx="125.4" cy="319.5" rx="12.6" ry="13.2" fill="#85d14f"/><ellipse cx="123.4" cy="316.4" rx="0.9" ry="1.0" fill="#1c1c1c"/><ellipse cx="127.8" cy="316.4" rx="0.9" ry="1.0" fill="#1c1c1c"/><path d="M120.7 321.8Q125.6 324.9 130.6 321.8" stroke="#1c1c1c" stroke-width="1.4" fill="none" stroke-linecap="round"/><ellipse cx="158.9" cy="319.5" rx="12.6" ry="13.2" fill="#fcef2f"/><ellipse cx="157.1" cy="316.1" rx="0.75" ry="1.05" fill="#1c1c1c"/><ellipse cx="161.2" cy="316.1" rx="0.75" ry="1.05" fill="#1c1c1c"/><path d="M156.5 321.2L163.3 323.6" stroke="#1c1c1c" stroke-width="1.7" fill="none" stroke-linecap="round"/><ellipse cx="191.2" cy="319.5" rx="12.6" ry="13.2" fill="#f89a87"/><circle cx="188.8" cy="316.2" r="1.05" fill="#1c1c1c"/><circle cx="193.8" cy="316.2" r="1.05" fill="#1c1c1c"/><path d="M186.6 323.8Q191.4 319.7 196.2 323.8" stroke="#1c1c1c" stroke-width="1.5" fill="none" stroke-linecap="round"/><ellipse cx="125.4" cy="354.2" rx="12.6" ry="13.2" fill="#85d14f"/><ellipse cx="123.4" cy="351.1" rx="0.9" ry="1.0" fill="#1c1c1c"/><ellipse cx="127.8" cy="351.1" rx="0.9" ry="1.0" fill="#1c1c1c"/><path d="M120.7 356.5Q125.6 359.6 130.6 356.5" stroke="#1c1c1c" stroke-width="1.4" fill="none" stroke-linecap="round"/><ellipse cx="158.9" cy="351.1" rx="12.6" ry="13.2" fill="#fcef2f"/><ellipse cx="157.1" cy="347.7" rx="0.75" ry="1.05" fill="#1c1c1c"/><ellipse cx="161.2" cy="347.7" rx="0.75" ry="1.05" fill="#1c1c1c"/><path d="M156.5 352.8L163.3 355.2" stroke="#1c1c1c" stroke-width="1.7" fill="none" stroke-linecap="round"/><ellipse cx="191.2" cy="354.2" rx="12.6" ry="13.2" fill="#f89a87"/><circle cx="188.8" cy="350.9" r="1.05" fill="#1c1c1c"/><circle cx="193.8" cy="350.9" r="1.05" fill="#1c1c1c"/><path d="M186.6 358.5Q191.4 354.4 196.2 358.5" stroke="#1c1c1c" stroke-width="1.5" fill="none" stroke-linecap="round"/><rect x="85.25" y="451.45" width="1100" height="255.3" fill="#fff" stroke="#111" stroke-width="2.5"/><rect x="97.5" y="426.25" width="246.6" height="35.2" fill="#fcee3b" stroke="#141414" stroke-width="2.5"/><text x="111.5" y="450" font-family="Liberation Sans, sans-serif" font-weight="bold" font-size="21.5" fill="#1c1c18" textLength="218" lengthAdjust="spacingAndGlyphs">Niko-Niko Calendar</text><rect x="311.0" y="469.5" width="18" height="8" fill="#e9e9e9"/><text x="320.0" y="476.3" text-anchor="middle" font-family="Liberation Sans, sans-serif" font-weight="bold" font-size="7" fill="#333">11/02</text><rect x="350.5" y="469.5" width="18" height="8" fill="#e9e9e9"/><text x="359.5" y="476.3" text-anchor="middle" font-family="Liberation Sans, sans-serif" font-weight="bold" font-size="7" fill="#333">11/03</text><rect x="390.0" y="469.5" width="18" height="8" fill="#e9e9e9"/><text x="399.0" y="476.3" text-anchor="middle" font-family="Liberation Sans, sans-serif" font-weight="bold" font-size="7" fill="#333">11/04</text><rect x="430.5" y="469.5" width="18" height="8" fill="#e9e9e9"/><text x="439.5" y="476.3" text-anchor="middle" font-family="Liberation Sans, sans-serif" font-weight="bold" font-size="7" fill="#333">11/05</text><rect x="471.0" y="469.5" width="18" height="8" fill="#e9e9e9"/><text x="480.0" y="476.3" text-anchor="middle" font-family="Liberation Sans, sans-serif" font-weight="bold" font-size="7" fill="#333">11/06</text><rect x="510.5" y="469.5" width="18" height="8" fill="#e9e9e9"/><text x="519.5" y="476.3" text-anchor="middle" font-family="Liberation Sans, sans-serif" font-weight="bold" font-size="7" fill="#333">11/09</text><rect x="550.0" y="469.5" width="18" height="8" fill="#e9e9e9"/><text x="559.0" y="476.3" text-anchor="middle" font-family="Liberation Sans, sans-serif" font-weight="bold" font-size="7" fill="#333">11/10</text><rect x="590.0" y="469.5" width="18" height="8" fill="#e9e9e9"/><text x="599.0" y="476.3" text-anchor="middle" font-family="Liberation Sans, sans-serif" font-weight="bold" font-size="7" fill="#333">11/11</text><rect x="630.0" y="469.5" width="18" height="8" fill="#e9e9e9"/><text x="639.0" y="476.3" text-anchor="middle" font-family="Liberation Sans, sans-serif" font-weight="bold" font-size="7" fill="#333">11/12</text><rect x="670.0" y="469.5" width="18" height="8" fill="#e9e9e9"/><text x="679.0" y="476.3" text-anchor="middle" font-family="Liberation Sans, sans-serif" font-weight="bold" font-size="7" fill="#333">11/13</text><rect x="709.5" y="469.5" width="18" height="8" fill="#e9e9e9"/><text x="718.5" y="476.3" text-anchor="middle" font-family="Liberation Sans, sans-serif" font-weight="bold" font-size="7" fill="#333">11/17</text><rect x="748.0" y="469.5" width="18" height="8" fill="#e9e9e9"/><text x="757.0" y="476.3" text-anchor="middle" font-family="Liberation Sans, sans-serif" font-weight="bold" font-size="7" fill="#333">11/18</text><rect x="787.0" y="469.5" width="18" height="8" fill="#e9e9e9"/><text x="796.0" y="476.3" text-anchor="middle" font-family="Liberation Sans, sans-serif" font-weight="bold" font-size="7" fill="#333">11/19</text><rect x="828.0" y="469.5" width="18" height="8" fill="#e9e9e9"/><text x="837.0" y="476.3" text-anchor="middle" font-family="Liberation Sans, sans-serif" font-weight="bold" font-size="7" fill="#333">11/20</text><rect x="869.5" y="469.5" width="18" height="8" fill="#e9e9e9"/><text x="878.5" y="476.3" text-anchor="middle" font-family="Liberation Sans, sans-serif" font-weight="bold" font-size="7" fill="#333">11/23</text><rect x="909.5" y="469.5" width="18" height="8" fill="#e9e9e9"/><text x="918.5" y="476.3" text-anchor="middle" font-family="Liberation Sans, sans-serif" font-weight="bold" font-size="7" fill="#333">11/24</text><rect x="948.5" y="469.5" width="18" height="8" fill="#e9e9e9"/><text x="957.5" y="476.3" text-anchor="middle" font-family="Liberation Sans, sans-serif" font-weight="bold" font-size="7" fill="#333">11/25</text><rect x="987.5" y="469.5" width="18" height="8" fill="#e9e9e9"/><text x="996.5" y="476.3" text-anchor="middle" font-family="Liberation Sans, sans-serif" font-weight="bold" font-size="7" fill="#333">11/26</text><rect x="1026.0" y="469.5" width="18" height="8" fill="#e9e9e9"/><text x="1035.0" y="476.3" text-anchor="middle" font-family="Liberation Sans, sans-serif" font-weight="bold" font-size="7" fill="#333">11/27</text><rect x="1064.5" y="469.5" width="18" height="8" fill="#e9e9e9"/><text x="1073.5" y="476.3" text-anchor="middle" font-family="Liberation Sans, sans-serif" font-weight="bold" font-size="7" fill="#333">11/30</text><line x1="218" y1="490" x2="1100" y2="490" stroke="#1c1c1c" stroke-width="1.8"/><line x1="218" y1="526" x2="1100" y2="526" stroke="#1c1c1c" stroke-width="1.8"/><line x1="218" y1="563" x2="1100" y2="563" stroke="#1c1c1c" stroke-width="1.8"/><line x1="218" y1="599" x2="1100" y2="599" stroke="#1c1c1c" stroke-width="1.8"/><line x1="218" y1="636" x2="1100" y2="636" stroke="#1c1c1c" stroke-width="1.8"/><line x1="218" y1="671" x2="1100" y2="671" stroke="#1c1c1c" stroke-width="1.8"/><line x1="218" y1="490" x2="218" y2="671" stroke="#555" stroke-width="1.5"/><line x1="340.3" y1="490" x2="340.3" y2="671" stroke="#333" stroke-width="1.5"/><line x1="379.3" y1="490" x2="379.3" y2="671" stroke="#333" stroke-width="1.5"/><line x1="419.3" y1="490" x2="419.3" y2="671" stroke="#333" stroke-width="1.5"/><line x1="460.3" y1="490" x2="460.3" y2="671" stroke="#333" stroke-width="1.5"/><line x1="500.3" y1="490" x2="500.3" y2="671" stroke="#333" stroke-width="1.5"/><line x1="539.3" y1="490" x2="539.3" y2="671" stroke="#333" stroke-width="1.5"/><line x1="579.3" y1="490" x2="579.3" y2="671" stroke="#333" stroke-width="1.5"/><line x1="619.3" y1="490" x2="619.3" y2="671" stroke="#333" stroke-width="1.5"/><line x1="659.3" y1="490" x2="659.3" y2="671" stroke="#333" stroke-width="1.5"/><line x1="699.3" y1="490" x2="699.3" y2="671" stroke="#333" stroke-width="1.5"/><line x1="738.3" y1="490" x2="738.3" y2="671" stroke="#333" stroke-width="1.5"/><line x1="776.3" y1="490" x2="776.3" y2="671" stroke="#333" stroke-width="1.5"/><line x1="816.3" y1="490" x2="816.3" y2="671" stroke="#333" stroke-width="1.5"/><line x1="858.3" y1="490" x2="858.3" y2="671" stroke="#333" stroke-width="1.5"/><line x1="899.3" y1="490" x2="899.3" y2="671" stroke="#333" stroke-width="1.5"/><line x1="938.3" y1="490" x2="938.3" y2="671" stroke="#333" stroke-width="1.5"/><line x1="977.3" y1="490" x2="977.3" y2="671" stroke="#333" stroke-width="1.5"/><line x1="1016.3" y1="490" x2="1016.3" y2="671" stroke="#333" stroke-width="1.5"/><line x1="1054.3" y1="490" x2="1054.3" y2="671" stroke="#333" stroke-width="1.5"/><line x1="1093.3" y1="490" x2="1093.3" y2="671" stroke="#333" stroke-width="1.5"/><ellipse cx="320.1" cy="507.8" rx="12.6" ry="13.2" fill="#85d14f"/><ellipse cx="318.1" cy="504.7" rx="0.9" ry="1.0" fill="#1c1c1c"/><ellipse cx="322.5" cy="504.7" rx="0.9" ry="1.0" fill="#1c1c1c"/><path d="M315.4 510.1Q320.3 513.2 325.3 510.1" stroke="#1c1c1c" stroke-width="1.4" fill="none" stroke-linecap="round"/><ellipse cx="359.2" cy="507.8" rx="12.6" ry="13.2" fill="#85d14f"/><ellipse cx="357.2" cy="504.7" rx="0.9" ry="1.0" fill="#1c1c1c"/><ellipse cx="361.6" cy="504.7" rx="0.9" ry="1.0" fill="#1c1c1c"/><path d="M354.5 510.1Q359.4 513.2 364.4 510.1" stroke="#1c1c1c" stroke-width="1.4" fill="none" stroke-linecap="round"/><ellipse cx="398.8" cy="507.8" rx="12.6" ry="13.2" fill="#85d14f"/><ellipse cx="396.8" cy="504.7" rx="0.9" ry="1.0" fill="#1c1c1c"/><ellipse cx="401.2" cy="504.7" rx="0.9" ry="1.0" fill="#1c1c1c"/><path d="M394.1 510.1Q399.0 513.2 404.0 510.1" stroke="#1c1c1c" stroke-width="1.4" fill="none" stroke-linecap="round"/><ellipse cx="438.6" cy="507.8" rx="12.6" ry="13.2" fill="#85d14f"/><ellipse cx="436.6" cy="504.7" rx="0.9" ry="1.0" fill="#1c1c1c"/><ellipse cx="441.0" cy="504.7" rx="0.9" ry="1.0" fill="#1c1c1c"/><path d="M433.9 510.1Q438.8 513.2 443.8 510.1" stroke="#1c1c1c" stroke-width="1.4" fill="none" stroke-linecap="round"/><ellipse cx="480.6" cy="507.8" rx="12.6" ry="13.2" fill="#85d14f"/><ellipse cx="478.6" cy="504.7" rx="0.9" ry="1.0" fill="#1c1c1c"/><ellipse cx="483.0" cy="504.7" rx="0.9" ry="1.0" fill="#1c1c1c"/><path d="M475.9 510.1Q480.8 513.2 485.8 510.1" stroke="#1c1c1c" stroke-width="1.4" fill="none" stroke-linecap="round"/><ellipse cx="519.4" cy="507.8" rx="12.6" ry="13.2" fill="#85d14f"/><ellipse cx="517.4" cy="504.7" rx="0.9" ry="1.0" fill="#1c1c1c"/><ellipse cx="521.8" cy="504.7" rx="0.9" ry="1.0" fill="#1c1c1c"/><path d="M514.7 510.1Q519.6 513.2 524.6 510.1" stroke="#1c1c1c" stroke-width="1.4" fill="none" stroke-linecap="round"/><ellipse cx="563.0" cy="507.8" rx="12.6" ry="13.2" fill="#85d14f"/><ellipse cx="561.0" cy="504.7" rx="0.9" ry="1.0" fill="#1c1c1c"/><ellipse cx="565.4" cy="504.7" rx="0.9" ry="1.0" fill="#1c1c1c"/><path d="M558.3 510.1Q563.2 513.2 568.2 510.1" stroke="#1c1c1c" stroke-width="1.4" fill="none" stroke-linecap="round"/><ellipse cx="598.8" cy="507.8" rx="12.6" ry="13.2" fill="#85d14f"/><ellipse cx="596.8" cy="504.7" rx="0.9" ry="1.0" fill="#1c1c1c"/><ellipse cx="601.2" cy="504.7" rx="0.9" ry="1.0" fill="#1c1c1c"/><path d="M594.1 510.1Q599.0 513.2 604.0 510.1" stroke="#1c1c1c" stroke-width="1.4" fill="none" stroke-linecap="round"/><ellipse cx="638.4" cy="507.8" rx="12.6" ry="13.2" fill="#85d14f"/><ellipse cx="636.4" cy="504.7" rx="0.9" ry="1.0" fill="#1c1c1c"/><ellipse cx="640.8" cy="504.7" rx="0.9" ry="1.0" fill="#1c1c1c"/><path d="M633.7 510.1Q638.6 513.2 643.6 510.1" stroke="#1c1c1c" stroke-width="1.4" fill="none" stroke-linecap="round"/><ellipse cx="678.7" cy="509.0" rx="12.6" ry="13.2" fill="#85d14f"/><ellipse cx="676.7" cy="505.9" rx="0.9" ry="1.0" fill="#1c1c1c"/><ellipse cx="681.1" cy="505.9" rx="0.9" ry="1.0" fill="#1c1c1c"/><path d="M674.0 511.3Q678.9 514.4 683.9 511.3" stroke="#1c1c1c" stroke-width="1.4" fill="none" stroke-linecap="round"/><ellipse cx="718.7" cy="507.8" rx="12.6" ry="13.2" fill="#85d14f"/><ellipse cx="716.7" cy="504.7" rx="0.9" ry="1.0" fill="#1c1c1c"/><ellipse cx="721.1" cy="504.7" rx="0.9" ry="1.0" fill="#1c1c1c"/><path d="M714.0 510.1Q718.9 513.2 723.9 510.1" stroke="#1c1c1c" stroke-width="1.4" fill="none" stroke-linecap="round"/><ellipse cx="757.8" cy="507.8" rx="12.6" ry="13.2" fill="#85d14f"/><ellipse cx="755.8" cy="504.7" rx="0.9" ry="1.0" fill="#1c1c1c"/><ellipse cx="760.2" cy="504.7" rx="0.9" ry="1.0" fill="#1c1c1c"/><path d="M753.1 510.1Q758.0 513.2 763.0 510.1" stroke="#1c1c1c" stroke-width="1.4" fill="none" stroke-linecap="round"/><ellipse cx="797.4" cy="507.8" rx="12.6" ry="13.2" fill="#fcef2f"/><ellipse cx="795.6" cy="504.4" rx="0.75" ry="1.05" fill="#1c1c1c"/><ellipse cx="799.7" cy="504.4" rx="0.75" ry="1.05" fill="#1c1c1c"/><path d="M795.0 509.5L801.8 511.9" stroke="#1c1c1c" stroke-width="1.7" fill="none" stroke-linecap="round"/><ellipse cx="837.2" cy="507.8" rx="12.6" ry="13.2" fill="#85d14f"/><ellipse cx="835.2" cy="504.7" rx="0.9" ry="1.0" fill="#1c1c1c"/><ellipse cx="839.6" cy="504.7" rx="0.9" ry="1.0" fill="#1c1c1c"/><path d="M832.5 510.1Q837.4 513.2 842.4 510.1" stroke="#1c1c1c" stroke-width="1.4" fill="none" stroke-linecap="round"/><ellipse cx="878.0" cy="507.8" rx="12.6" ry="13.2" fill="#85d14f"/><ellipse cx="876.0" cy="504.7" rx="0.9" ry="1.0" fill="#1c1c1c"/><ellipse cx="880.4" cy="504.7" rx="0.9" ry="1.0" fill="#1c1c1c"/><path d="M873.3 510.1Q878.2 513.2 883.2 510.1" stroke="#1c1c1c" stroke-width="1.4" fill="none" stroke-linecap="round"/><ellipse cx="919.9" cy="507.8" rx="12.6" ry="13.2" fill="#85d14f"/><ellipse cx="917.9" cy="504.7" rx="0.9" ry="1.0" fill="#1c1c1c"/><ellipse cx="922.3" cy="504.7" rx="0.9" ry="1.0" fill="#1c1c1c"/><path d="M915.2 510.1Q920.1 513.2 925.1 510.1" stroke="#1c1c1c" stroke-width="1.4" fill="none" stroke-linecap="round"/><ellipse cx="961.4" cy="507.8" rx="12.6" ry="13.2" fill="#85d14f"/><ellipse cx="959.4" cy="504.7" rx="0.9" ry="1.0" fill="#1c1c1c"/><ellipse cx="963.8" cy="504.7" rx="0.9" ry="1.0" fill="#1c1c1c"/><path d="M956.7 510.1Q961.6 513.2 966.6 510.1" stroke="#1c1c1c" stroke-width="1.4" fill="none" stroke-linecap="round"/><ellipse cx="996.5" cy="507.8" rx="12.6" ry="13.2" fill="#85d14f"/><ellipse cx="994.5" cy="504.7" rx="0.9" ry="1.0" fill="#1c1c1c"/><ellipse cx="998.9" cy="504.7" rx="0.9" ry="1.0" fill="#1c1c1c"/><path d="M991.8 510.1Q996.7 513.2 1001.7 510.1" stroke="#1c1c1c" stroke-width="1.4" fill="none" stroke-linecap="round"/><ellipse cx="320.1" cy="544.0" rx="12.6" ry="13.2" fill="#85d14f"/><ellipse cx="318.1" cy="540.9" rx="0.9" ry="1.0" fill="#1c1c1c"/><ellipse cx="322.5" cy="540.9" rx="0.9" ry="1.0" fill="#1c1c1c"/><path d="M315.4 546.3Q320.3 549.4 325.3 546.3" stroke="#1c1c1c" stroke-width="1.4" fill="none" stroke-linecap="round"/><ellipse cx="359.2" cy="544.0" rx="12.6" ry="13.2" fill="#85d14f"/><ellipse cx="357.2" cy="540.9" rx="0.9" ry="1.0" fill="#1c1c1c"/><ellipse cx="361.6" cy="540.9" rx="0.9" ry="1.0" fill="#1c1c1c"/><path d="M354.5 546.3Q359.4 549.4 364.4 546.3" stroke="#1c1c1c" stroke-width="1.4" fill="none" stroke-linecap="round"/><ellipse cx="398.8" cy="544.0" rx="12.6" ry="13.2" fill="#85d14f"/><ellipse cx="396.8" cy="540.9" rx="0.9" ry="1.0" fill="#1c1c1c"/><ellipse cx="401.2" cy="540.9" rx="0.9" ry="1.0" fill="#1c1c1c"/><path d="M394.1 546.3Q399.0 549.4 404.0 546.3" stroke="#1c1c1c" stroke-width="1.4" fill="none" stroke-linecap="round"/><ellipse cx="438.6" cy="544.0" rx="12.6" ry="13.2" fill="#85d14f"/><ellipse cx="436.6" cy="540.9" rx="0.9" ry="1.0" fill="#1c1c1c"/><ellipse cx="441.0" cy="540.9" rx="0.9" ry="1.0" fill="#1c1c1c"/><path d="M433.9 546.3Q438.8 549.4 443.8 546.3" stroke="#1c1c1c" stroke-width="1.4" fill="none" stroke-linecap="round"/><ellipse cx="480.6" cy="544.0" rx="12.6" ry="13.2" fill="#85d14f"/><ellipse cx="478.6" cy="540.9" rx="0.9" ry="1.0" fill="#1c1c1c"/><ellipse cx="483.0" cy="540.9" rx="0.9" ry="1.0" fill="#1c1c1c"/><path d="M475.9 546.3Q480.8 549.4 485.8 546.3" stroke="#1c1c1c" stroke-width="1.4" fill="none" stroke-linecap="round"/><ellipse cx="519.4" cy="544.0" rx="12.6" ry="13.2" fill="#fcef2f"/><ellipse cx="517.6" cy="540.6" rx="0.75" ry="1.05" fill="#1c1c1c"/><ellipse cx="521.7" cy="540.6" rx="0.75" ry="1.05" fill="#1c1c1c"/><path d="M517.0 545.7L523.8 548.1" stroke="#1c1c1c" stroke-width="1.7" fill="none" stroke-linecap="round"/><ellipse cx="559.0" cy="544.0" rx="12.6" ry="13.2" fill="#85d14f"/><ellipse cx="557.0" cy="540.9" rx="0.9" ry="1.0" fill="#1c1c1c"/><ellipse cx="561.4" cy="540.9" rx="0.9" ry="1.0" fill="#1c1c1c"/><path d="M554.3 546.3Q559.2 549.4 564.2 546.3" stroke="#1c1c1c" stroke-width="1.4" fill="none" stroke-linecap="round"/><ellipse cx="598.8" cy="544.0" rx="12.6" ry="13.2" fill="#85d14f"/><ellipse cx="596.8" cy="540.9" rx="0.9" ry="1.0" fill="#1c1c1c"/><ellipse cx="601.2" cy="540.9" rx="0.9" ry="1.0" fill="#1c1c1c"/><path d="M594.1 546.3Q599.0 549.4 604.0 546.3" stroke="#1c1c1c" stroke-width="1.4" fill="none" stroke-linecap="round"/><ellipse cx="638.4" cy="544.0" rx="12.6" ry="13.2" fill="#85d14f"/><ellipse cx="636.4" cy="540.9" rx="0.9" ry="1.0" fill="#1c1c1c"/><ellipse cx="640.8" cy="540.9" rx="0.9" ry="1.0" fill="#1c1c1c"/><path d="M633.7 546.3Q638.6 549.4 643.6 546.3" stroke="#1c1c1c" stroke-width="1.4" fill="none" stroke-linecap="round"/><ellipse cx="681.0" cy="544.0" rx="12.6" ry="13.2" fill="#85d14f"/><ellipse cx="679.0" cy="540.9" rx="0.9" ry="1.0" fill="#1c1c1c"/><ellipse cx="683.4" cy="540.9" rx="0.9" ry="1.0" fill="#1c1c1c"/><path d="M676.3 546.3Q681.2 549.4 686.2 546.3" stroke="#1c1c1c" stroke-width="1.4" fill="none" stroke-linecap="round"/><ellipse cx="721.0" cy="544.0" rx="12.6" ry="13.2" fill="#85d14f"/><ellipse cx="719.0" cy="540.9" rx="0.9" ry="1.0" fill="#1c1c1c"/><ellipse cx="723.4" cy="540.9" rx="0.9" ry="1.0" fill="#1c1c1c"/><path d="M716.3 546.3Q721.2 549.4 726.2 546.3" stroke="#1c1c1c" stroke-width="1.4" fill="none" stroke-linecap="round"/><ellipse cx="761.4" cy="544.0" rx="12.6" ry="13.2" fill="#85d14f"/><ellipse cx="759.4" cy="540.9" rx="0.9" ry="1.0" fill="#1c1c1c"/><ellipse cx="763.8" cy="540.9" rx="0.9" ry="1.0" fill="#1c1c1c"/><path d="M756.7 546.3Q761.6 549.4 766.6 546.3" stroke="#1c1c1c" stroke-width="1.4" fill="none" stroke-linecap="round"/><ellipse cx="797.4" cy="544.0" rx="12.6" ry="13.2" fill="#85d14f"/><ellipse cx="795.4" cy="540.9" rx="0.9" ry="1.0" fill="#1c1c1c"/><ellipse cx="799.8" cy="540.9" rx="0.9" ry="1.0" fill="#1c1c1c"/><path d="M792.7 546.3Q797.6 549.4 802.6 546.3" stroke="#1c1c1c" stroke-width="1.4" fill="none" stroke-linecap="round"/><ellipse cx="837.2" cy="544.0" rx="12.6" ry="13.2" fill="#85d14f"/><ellipse cx="835.2" cy="540.9" rx="0.9" ry="1.0" fill="#1c1c1c"/><ellipse cx="839.6" cy="540.9" rx="0.9" ry="1.0" fill="#1c1c1c"/><path d="M832.5 546.3Q837.4 549.4 842.4 546.3" stroke="#1c1c1c" stroke-width="1.4" fill="none" stroke-linecap="round"/><ellipse cx="878.0" cy="544.0" rx="12.6" ry="13.2" fill="#fcef2f"/><ellipse cx="876.2" cy="540.6" rx="0.75" ry="1.05" fill="#1c1c1c"/><ellipse cx="880.3" cy="540.6" rx="0.75" ry="1.05" fill="#1c1c1c"/><path d="M875.6 545.7L882.4 548.1" stroke="#1c1c1c" stroke-width="1.7" fill="none" stroke-linecap="round"/><ellipse cx="919.9" cy="544.0" rx="12.6" ry="13.2" fill="#85d14f"/><ellipse cx="917.9" cy="540.9" rx="0.9" ry="1.0" fill="#1c1c1c"/><ellipse cx="922.3" cy="540.9" rx="0.9" ry="1.0" fill="#1c1c1c"/><path d="M915.2 546.3Q920.1 549.4 925.1 546.3" stroke="#1c1c1c" stroke-width="1.4" fill="none" stroke-linecap="round"/><ellipse cx="958.3" cy="544.0" rx="12.6" ry="13.2" fill="#85d14f"/><ellipse cx="956.3" cy="540.9" rx="0.9" ry="1.0" fill="#1c1c1c"/><ellipse cx="960.7" cy="540.9" rx="0.9" ry="1.0" fill="#1c1c1c"/><path d="M953.6 546.3Q958.5 549.4 963.5 546.3" stroke="#1c1c1c" stroke-width="1.4" fill="none" stroke-linecap="round"/><ellipse cx="996.5" cy="544.0" rx="12.6" ry="13.2" fill="#85d14f"/><ellipse cx="994.5" cy="540.9" rx="0.9" ry="1.0" fill="#1c1c1c"/><ellipse cx="998.9" cy="540.9" rx="0.9" ry="1.0" fill="#1c1c1c"/><path d="M991.8 546.3Q996.7 549.4 1001.7 546.3" stroke="#1c1c1c" stroke-width="1.4" fill="none" stroke-linecap="round"/><ellipse cx="320.1" cy="580.0" rx="12.6" ry="13.2" fill="#fcef2f"/><ellipse cx="318.3" cy="576.6" rx="0.75" ry="1.05" fill="#1c1c1c"/><ellipse cx="322.4" cy="576.6" rx="0.75" ry="1.05" fill="#1c1c1c"/><path d="M317.7 581.7L324.5 584.1" stroke="#1c1c1c" stroke-width="1.7" fill="none" stroke-linecap="round"/><ellipse cx="359.2" cy="578.4" rx="12.6" ry="13.2" fill="#fcef2f"/><ellipse cx="357.4" cy="575.0" rx="0.75" ry="1.05" fill="#1c1c1c"/><ellipse cx="361.5" cy="575.0" rx="0.75" ry="1.05" fill="#1c1c1c"/><path d="M356.8 580.1L363.6 582.5" stroke="#1c1c1c" stroke-width="1.7" fill="none" stroke-linecap="round"/><ellipse cx="398.8" cy="580.0" rx="12.6" ry="13.2" fill="#fcef2f"/><ellipse cx="397.0" cy="576.6" rx="0.75" ry="1.05" fill="#1c1c1c"/><ellipse cx="401.1" cy="576.6" rx="0.75" ry="1.05" fill="#1c1c1c"/><path d="M396.4 581.7L403.2 584.1" stroke="#1c1c1c" stroke-width="1.7" fill="none" stroke-linecap="round"/><ellipse cx="438.6" cy="580.0" rx="12.6" ry="13.2" fill="#fcef2f"/><ellipse cx="436.8" cy="576.6" rx="0.75" ry="1.05" fill="#1c1c1c"/><ellipse cx="440.9" cy="576.6" rx="0.75" ry="1.05" fill="#1c1c1c"/><path d="M436.2 581.7L443.0 584.1" stroke="#1c1c1c" stroke-width="1.7" fill="none" stroke-linecap="round"/><ellipse cx="480.6" cy="580.0" rx="12.6" ry="13.2" fill="#fcef2f"/><ellipse cx="478.8" cy="576.6" rx="0.75" ry="1.05" fill="#1c1c1c"/><ellipse cx="482.9" cy="576.6" rx="0.75" ry="1.05" fill="#1c1c1c"/><path d="M478.2 581.7L485.0 584.1" stroke="#1c1c1c" stroke-width="1.7" fill="none" stroke-linecap="round"/><ellipse cx="519.4" cy="580.0" rx="12.6" ry="13.2" fill="#85d14f"/><ellipse cx="517.4" cy="576.9" rx="0.9" ry="1.0" fill="#1c1c1c"/><ellipse cx="521.8" cy="576.9" rx="0.9" ry="1.0" fill="#1c1c1c"/><path d="M514.7 582.3Q519.6 585.4 524.6 582.3" stroke="#1c1c1c" stroke-width="1.4" fill="none" stroke-linecap="round"/><ellipse cx="559.0" cy="578.4" rx="12.6" ry="13.2" fill="#f89a87"/><circle cx="556.6" cy="575.1" r="1.05" fill="#1c1c1c"/><circle cx="561.6" cy="575.1" r="1.05" fill="#1c1c1c"/><path d="M554.4 582.7Q559.2 578.6 564.0 582.7" stroke="#1c1c1c" stroke-width="1.5" fill="none" stroke-linecap="round"/><ellipse cx="598.8" cy="578.4" rx="12.6" ry="13.2" fill="#85d14f"/><ellipse cx="596.8" cy="575.3" rx="0.9" ry="1.0" fill="#1c1c1c"/><ellipse cx="601.2" cy="575.3" rx="0.9" ry="1.0" fill="#1c1c1c"/><path d="M594.1 580.7Q599.0 583.8 604.0 580.7" stroke="#1c1c1c" stroke-width="1.4" fill="none" stroke-linecap="round"/><ellipse cx="638.4" cy="580.0" rx="12.6" ry="13.2" fill="#85d14f"/><ellipse cx="636.4" cy="576.9" rx="0.9" ry="1.0" fill="#1c1c1c"/><ellipse cx="640.8" cy="576.9" rx="0.9" ry="1.0" fill="#1c1c1c"/><path d="M633.7 582.3Q638.6 585.4 643.6 582.3" stroke="#1c1c1c" stroke-width="1.4" fill="none" stroke-linecap="round"/><ellipse cx="675.6" cy="580.0" rx="12.6" ry="13.2" fill="#85d14f"/><ellipse cx="673.6" cy="576.9" rx="0.9" ry="1.0" fill="#1c1c1c"/><ellipse cx="678.0" cy="576.9" rx="0.9" ry="1.0" fill="#1c1c1c"/><path d="M670.9 582.3Q675.8 585.4 680.8 582.3" stroke="#1c1c1c" stroke-width="1.4" fill="none" stroke-linecap="round"/><ellipse cx="718.7" cy="580.0" rx="12.6" ry="13.2" fill="#fcef2f"/><ellipse cx="716.9" cy="576.6" rx="0.75" ry="1.05" fill="#1c1c1c"/><ellipse cx="721.0" cy="576.6" rx="0.75" ry="1.05" fill="#1c1c1c"/><path d="M716.3 581.7L723.1 584.1" stroke="#1c1c1c" stroke-width="1.7" fill="none" stroke-linecap="round"/><ellipse cx="757.8" cy="580.0" rx="12.6" ry="13.2" fill="#fcef2f"/><ellipse cx="756.0" cy="576.6" rx="0.75" ry="1.05" fill="#1c1c1c"/><ellipse cx="760.1" cy="576.6" rx="0.75" ry="1.05" fill="#1c1c1c"/><path d="M755.4 581.7L762.2 584.1" stroke="#1c1c1c" stroke-width="1.7" fill="none" stroke-linecap="round"/><ellipse cx="797.4" cy="580.0" rx="12.6" ry="13.2" fill="#85d14f"/><ellipse cx="795.4" cy="576.9" rx="0.9" ry="1.0" fill="#1c1c1c"/><ellipse cx="799.8" cy="576.9" rx="0.9" ry="1.0" fill="#1c1c1c"/><path d="M792.7 582.3Q797.6 585.4 802.6 582.3" stroke="#1c1c1c" stroke-width="1.4" fill="none" stroke-linecap="round"/><ellipse cx="837.2" cy="580.0" rx="12.6" ry="13.2" fill="#85d14f"/><ellipse cx="835.2" cy="576.9" rx="0.9" ry="1.0" fill="#1c1c1c"/><ellipse cx="839.6" cy="576.9" rx="0.9" ry="1.0" fill="#1c1c1c"/><path d="M832.5 582.3Q837.4 585.4 842.4 582.3" stroke="#1c1c1c" stroke-width="1.4" fill="none" stroke-linecap="round"/><ellipse cx="878.0" cy="578.4" rx="12.6" ry="13.2" fill="#85d14f"/><ellipse cx="876.0" cy="575.3" rx="0.9" ry="1.0" fill="#1c1c1c"/><ellipse cx="880.4" cy="575.3" rx="0.9" ry="1.0" fill="#1c1c1c"/><path d="M873.3 580.7Q878.2 583.8 883.2 580.7" stroke="#1c1c1c" stroke-width="1.4" fill="none" stroke-linecap="round"/><ellipse cx="919.9" cy="580.0" rx="12.6" ry="13.2" fill="#85d14f"/><ellipse cx="917.9" cy="576.9" rx="0.9" ry="1.0" fill="#1c1c1c"/><ellipse cx="922.3" cy="576.9" rx="0.9" ry="1.0" fill="#1c1c1c"/><path d="M915.2 582.3Q920.1 585.4 925.1 582.3" stroke="#1c1c1c" stroke-width="1.4" fill="none" stroke-linecap="round"/><ellipse cx="958.3" cy="580.0" rx="12.6" ry="13.2" fill="#85d14f"/><ellipse cx="956.3" cy="576.9" rx="0.9" ry="1.0" fill="#1c1c1c"/><ellipse cx="960.7" cy="576.9" rx="0.9" ry="1.0" fill="#1c1c1c"/><path d="M953.6 582.3Q958.5 585.4 963.5 582.3" stroke="#1c1c1c" stroke-width="1.4" fill="none" stroke-linecap="round"/><ellipse cx="996.5" cy="580.0" rx="12.6" ry="13.2" fill="#85d14f"/><ellipse cx="994.5" cy="576.9" rx="0.9" ry="1.0" fill="#1c1c1c"/><ellipse cx="998.9" cy="576.9" rx="0.9" ry="1.0" fill="#1c1c1c"/><path d="M991.8 582.3Q996.7 585.4 1001.7 582.3" stroke="#1c1c1c" stroke-width="1.4" fill="none" stroke-linecap="round"/><ellipse cx="320.1" cy="617.3" rx="12.6" ry="13.2" fill="#fcef2f"/><ellipse cx="318.3" cy="613.9" rx="0.75" ry="1.05" fill="#1c1c1c"/><ellipse cx="322.4" cy="613.9" rx="0.75" ry="1.05" fill="#1c1c1c"/><path d="M317.7 619.0L324.5 621.4" stroke="#1c1c1c" stroke-width="1.7" fill="none" stroke-linecap="round"/><ellipse cx="359.2" cy="617.3" rx="12.6" ry="13.2" fill="#85d14f"/><ellipse cx="357.2" cy="614.2" rx="0.9" ry="1.0" fill="#1c1c1c"/><ellipse cx="361.6" cy="614.2" rx="0.9" ry="1.0" fill="#1c1c1c"/><path d="M354.5 619.6Q359.4 622.7 364.4 619.6" stroke="#1c1c1c" stroke-width="1.4" fill="none" stroke-linecap="round"/><ellipse cx="398.8" cy="617.3" rx="12.6" ry="13.2" fill="#85d14f"/><ellipse cx="396.8" cy="614.2" rx="0.9" ry="1.0" fill="#1c1c1c"/><ellipse cx="401.2" cy="614.2" rx="0.9" ry="1.0" fill="#1c1c1c"/><path d="M394.1 619.6Q399.0 622.7 404.0 619.6" stroke="#1c1c1c" stroke-width="1.4" fill="none" stroke-linecap="round"/><ellipse cx="438.6" cy="617.3" rx="12.6" ry="13.2" fill="#85d14f"/><ellipse cx="436.6" cy="614.2" rx="0.9" ry="1.0" fill="#1c1c1c"/><ellipse cx="441.0" cy="614.2" rx="0.9" ry="1.0" fill="#1c1c1c"/><path d="M433.9 619.6Q438.8 622.7 443.8 619.6" stroke="#1c1c1c" stroke-width="1.4" fill="none" stroke-linecap="round"/><ellipse cx="480.6" cy="617.3" rx="12.6" ry="13.2" fill="#85d14f"/><ellipse cx="478.6" cy="614.2" rx="0.9" ry="1.0" fill="#1c1c1c"/><ellipse cx="483.0" cy="614.2" rx="0.9" ry="1.0" fill="#1c1c1c"/><path d="M475.9 619.6Q480.8 622.7 485.8 619.6" stroke="#1c1c1c" stroke-width="1.4" fill="none" stroke-linecap="round"/><ellipse cx="519.4" cy="617.3" rx="12.6" ry="13.2" fill="#85d14f"/><ellipse cx="517.4" cy="614.2" rx="0.9" ry="1.0" fill="#1c1c1c"/><ellipse cx="521.8" cy="614.2" rx="0.9" ry="1.0" fill="#1c1c1c"/><path d="M514.7 619.6Q519.6 622.7 524.6 619.6" stroke="#1c1c1c" stroke-width="1.4" fill="none" stroke-linecap="round"/><ellipse cx="559.0" cy="617.3" rx="12.6" ry="13.2" fill="#85d14f"/><ellipse cx="557.0" cy="614.2" rx="0.9" ry="1.0" fill="#1c1c1c"/><ellipse cx="561.4" cy="614.2" rx="0.9" ry="1.0" fill="#1c1c1c"/><path d="M554.3 619.6Q559.2 622.7 564.2 619.6" stroke="#1c1c1c" stroke-width="1.4" fill="none" stroke-linecap="round"/><ellipse cx="598.8" cy="617.3" rx="12.6" ry="13.2" fill="#85d14f"/><ellipse cx="596.8" cy="614.2" rx="0.9" ry="1.0" fill="#1c1c1c"/><ellipse cx="601.2" cy="614.2" rx="0.9" ry="1.0" fill="#1c1c1c"/><path d="M594.1 619.6Q599.0 622.7 604.0 619.6" stroke="#1c1c1c" stroke-width="1.4" fill="none" stroke-linecap="round"/><ellipse cx="638.4" cy="617.3" rx="12.6" ry="13.2" fill="#85d14f"/><ellipse cx="636.4" cy="614.2" rx="0.9" ry="1.0" fill="#1c1c1c"/><ellipse cx="640.8" cy="614.2" rx="0.9" ry="1.0" fill="#1c1c1c"/><path d="M633.7 619.6Q638.6 622.7 643.6 619.6" stroke="#1c1c1c" stroke-width="1.4" fill="none" stroke-linecap="round"/><ellipse cx="674.4" cy="617.3" rx="12.6" ry="13.2" fill="#85d14f"/><ellipse cx="672.4" cy="614.2" rx="0.9" ry="1.0" fill="#1c1c1c"/><ellipse cx="676.8" cy="614.2" rx="0.9" ry="1.0" fill="#1c1c1c"/><path d="M669.7 619.6Q674.6 622.7 679.6 619.6" stroke="#1c1c1c" stroke-width="1.4" fill="none" stroke-linecap="round"/><ellipse cx="714.0" cy="617.3" rx="12.6" ry="13.2" fill="#85d14f"/><ellipse cx="712.0" cy="614.2" rx="0.9" ry="1.0" fill="#1c1c1c"/><ellipse cx="716.4" cy="614.2" rx="0.9" ry="1.0" fill="#1c1c1c"/><path d="M709.3 619.6Q714.2 622.7 719.2 619.6" stroke="#1c1c1c" stroke-width="1.4" fill="none" stroke-linecap="round"/><ellipse cx="757.8" cy="617.3" rx="12.6" ry="13.2" fill="#85d14f"/><ellipse cx="755.8" cy="614.2" rx="0.9" ry="1.0" fill="#1c1c1c"/><ellipse cx="760.2" cy="614.2" rx="0.9" ry="1.0" fill="#1c1c1c"/><path d="M753.1 619.6Q758.0 622.7 763.0 619.6" stroke="#1c1c1c" stroke-width="1.4" fill="none" stroke-linecap="round"/><ellipse cx="797.4" cy="617.3" rx="12.6" ry="13.2" fill="#85d14f"/><ellipse cx="795.4" cy="614.2" rx="0.9" ry="1.0" fill="#1c1c1c"/><ellipse cx="799.8" cy="614.2" rx="0.9" ry="1.0" fill="#1c1c1c"/><path d="M792.7 619.6Q797.6 622.7 802.6 619.6" stroke="#1c1c1c" stroke-width="1.4" fill="none" stroke-linecap="round"/><ellipse cx="837.2" cy="617.3" rx="12.6" ry="13.2" fill="#85d14f"/><ellipse cx="835.2" cy="614.2" rx="0.9" ry="1.0" fill="#1c1c1c"/><ellipse cx="839.6" cy="614.2" rx="0.9" ry="1.0" fill="#1c1c1c"/><path d="M832.5 619.6Q837.4 622.7 842.4 619.6" stroke="#1c1c1c" stroke-width="1.4" fill="none" stroke-linecap="round"/><ellipse cx="877.0" cy="617.3" rx="12.6" ry="13.2" fill="#85d14f"/><ellipse cx="875.0" cy="614.2" rx="0.9" ry="1.0" fill="#1c1c1c"/><ellipse cx="879.4" cy="614.2" rx="0.9" ry="1.0" fill="#1c1c1c"/><path d="M872.3 619.6Q877.2 622.7 882.2 619.6" stroke="#1c1c1c" stroke-width="1.4" fill="none" stroke-linecap="round"/><ellipse cx="919.9" cy="617.3" rx="12.6" ry="13.2" fill="#85d14f"/><ellipse cx="917.9" cy="614.2" rx="0.9" ry="1.0" fill="#1c1c1c"/><ellipse cx="922.3" cy="614.2" rx="0.9" ry="1.0" fill="#1c1c1c"/><path d="M915.2 619.6Q920.1 622.7 925.1 619.6" stroke="#1c1c1c" stroke-width="1.4" fill="none" stroke-linecap="round"/><ellipse cx="953.1" cy="617.3" rx="12.6" ry="13.2" fill="#fcef2f"/><ellipse cx="951.3" cy="613.9" rx="0.75" ry="1.05" fill="#1c1c1c"/><ellipse cx="955.4" cy="613.9" rx="0.75" ry="1.05" fill="#1c1c1c"/><path d="M950.7 619.0L957.5 621.4" stroke="#1c1c1c" stroke-width="1.7" fill="none" stroke-linecap="round"/><ellipse cx="996.5" cy="617.3" rx="12.6" ry="13.2" fill="#85d14f"/><ellipse cx="994.5" cy="614.2" rx="0.9" ry="1.0" fill="#1c1c1c"/><ellipse cx="998.9" cy="614.2" rx="0.9" ry="1.0" fill="#1c1c1c"/><path d="M991.8 619.6Q996.7 622.7 1001.7 619.6" stroke="#1c1c1c" stroke-width="1.4" fill="none" stroke-linecap="round"/><ellipse cx="320.1" cy="653.5" rx="12.6" ry="13.2" fill="#85d14f"/><ellipse cx="318.1" cy="650.4" rx="0.9" ry="1.0" fill="#1c1c1c"/><ellipse cx="322.5" cy="650.4" rx="0.9" ry="1.0" fill="#1c1c1c"/><path d="M315.4 655.8Q320.3 658.9 325.3 655.8" stroke="#1c1c1c" stroke-width="1.4" fill="none" stroke-linecap="round"/><ellipse cx="359.2" cy="653.5" rx="12.6" ry="13.2" fill="#fcef2f"/><ellipse cx="357.4" cy="650.1" rx="0.75" ry="1.05" fill="#1c1c1c"/><ellipse cx="361.5" cy="650.1" rx="0.75" ry="1.05" fill="#1c1c1c"/><path d="M356.8 655.2L363.6 657.6" stroke="#1c1c1c" stroke-width="1.7" fill="none" stroke-linecap="round"/><ellipse cx="398.8" cy="653.5" rx="12.6" ry="13.2" fill="#85d14f"/><ellipse cx="396.8" cy="650.4" rx="0.9" ry="1.0" fill="#1c1c1c"/><ellipse cx="401.2" cy="650.4" rx="0.9" ry="1.0" fill="#1c1c1c"/><path d="M394.1 655.8Q399.0 658.9 404.0 655.8" stroke="#1c1c1c" stroke-width="1.4" fill="none" stroke-linecap="round"/><ellipse cx="438.6" cy="653.5" rx="12.6" ry="13.2" fill="#85d14f"/><ellipse cx="436.6" cy="650.4" rx="0.9" ry="1.0" fill="#1c1c1c"/><ellipse cx="441.0" cy="650.4" rx="0.9" ry="1.0" fill="#1c1c1c"/><path d="M433.9 655.8Q438.8 658.9 443.8 655.8" stroke="#1c1c1c" stroke-width="1.4" fill="none" stroke-linecap="round"/><ellipse cx="480.6" cy="653.5" rx="12.6" ry="13.2" fill="#85d14f"/><ellipse cx="478.6" cy="650.4" rx="0.9" ry="1.0" fill="#1c1c1c"/><ellipse cx="483.0" cy="650.4" rx="0.9" ry="1.0" fill="#1c1c1c"/><path d="M475.9 655.8Q480.8 658.9 485.8 655.8" stroke="#1c1c1c" stroke-width="1.4" fill="none" stroke-linecap="round"/><ellipse cx="519.4" cy="653.5" rx="12.6" ry="13.2" fill="#fcef2f"/><ellipse cx="517.6" cy="650.1" rx="0.75" ry="1.05" fill="#1c1c1c"/><ellipse cx="521.7" cy="650.1" rx="0.75" ry="1.05" fill="#1c1c1c"/><path d="M517.0 655.2L523.8 657.6" stroke="#1c1c1c" stroke-width="1.7" fill="none" stroke-linecap="round"/><ellipse cx="559.0" cy="653.5" rx="12.6" ry="13.2" fill="#85d14f"/><ellipse cx="557.0" cy="650.4" rx="0.9" ry="1.0" fill="#1c1c1c"/><ellipse cx="561.4" cy="650.4" rx="0.9" ry="1.0" fill="#1c1c1c"/><path d="M554.3 655.8Q559.2 658.9 564.2 655.8" stroke="#1c1c1c" stroke-width="1.4" fill="none" stroke-linecap="round"/><ellipse cx="598.8" cy="653.5" rx="12.6" ry="13.2" fill="#85d14f"/><ellipse cx="596.8" cy="650.4" rx="0.9" ry="1.0" fill="#1c1c1c"/><ellipse cx="601.2" cy="650.4" rx="0.9" ry="1.0" fill="#1c1c1c"/><path d="M594.1 655.8Q599.0 658.9 604.0 655.8" stroke="#1c1c1c" stroke-width="1.4" fill="none" stroke-linecap="round"/><ellipse cx="638.4" cy="653.5" rx="12.6" ry="13.2" fill="#85d14f"/><ellipse cx="636.4" cy="650.4" rx="0.9" ry="1.0" fill="#1c1c1c"/><ellipse cx="640.8" cy="650.4" rx="0.9" ry="1.0" fill="#1c1c1c"/><path d="M633.7 655.8Q638.6 658.9 643.6 655.8" stroke="#1c1c1c" stroke-width="1.4" fill="none" stroke-linecap="round"/><ellipse cx="678.7" cy="653.5" rx="12.6" ry="13.2" fill="#85d14f"/><ellipse cx="676.7" cy="650.4" rx="0.9" ry="1.0" fill="#1c1c1c"/><ellipse cx="681.1" cy="650.4" rx="0.9" ry="1.0" fill="#1c1c1c"/><path d="M674.0 655.8Q678.9 658.9 683.9 655.8" stroke="#1c1c1c" stroke-width="1.4" fill="none" stroke-linecap="round"/><ellipse cx="718.7" cy="653.5" rx="12.6" ry="13.2" fill="#fcef2f"/><ellipse cx="716.9" cy="650.1" rx="0.75" ry="1.05" fill="#1c1c1c"/><ellipse cx="721.0" cy="650.1" rx="0.75" ry="1.05" fill="#1c1c1c"/><path d="M716.3 655.2L723.1 657.6" stroke="#1c1c1c" stroke-width="1.7" fill="none" stroke-linecap="round"/><ellipse cx="757.8" cy="653.5" rx="12.6" ry="13.2" fill="#fcef2f"/><ellipse cx="756.0" cy="650.1" rx="0.75" ry="1.05" fill="#1c1c1c"/><ellipse cx="760.1" cy="650.1" rx="0.75" ry="1.05" fill="#1c1c1c"/><path d="M755.4 655.2L762.2 657.6" stroke="#1c1c1c" stroke-width="1.7" fill="none" stroke-linecap="round"/><ellipse cx="794.5" cy="653.5" rx="12.6" ry="13.2" fill="#85d14f"/><ellipse cx="792.5" cy="650.4" rx="0.9" ry="1.0" fill="#1c1c1c"/><ellipse cx="796.9" cy="650.4" rx="0.9" ry="1.0" fill="#1c1c1c"/><path d="M789.8 655.8Q794.7 658.9 799.7 655.8" stroke="#1c1c1c" stroke-width="1.4" fill="none" stroke-linecap="round"/><ellipse cx="837.2" cy="653.5" rx="12.6" ry="13.2" fill="#85d14f"/><ellipse cx="835.2" cy="650.4" rx="0.9" ry="1.0" fill="#1c1c1c"/><ellipse cx="839.6" cy="650.4" rx="0.9" ry="1.0" fill="#1c1c1c"/><path d="M832.5 655.8Q837.4 658.9 842.4 655.8" stroke="#1c1c1c" stroke-width="1.4" fill="none" stroke-linecap="round"/><ellipse cx="878.0" cy="653.5" rx="12.6" ry="13.2" fill="#fcef2f"/><ellipse cx="876.2" cy="650.1" rx="0.75" ry="1.05" fill="#1c1c1c"/><ellipse cx="880.3" cy="650.1" rx="0.75" ry="1.05" fill="#1c1c1c"/><path d="M875.6 655.2L882.4 657.6" stroke="#1c1c1c" stroke-width="1.7" fill="none" stroke-linecap="round"/><ellipse cx="919.9" cy="653.5" rx="12.6" ry="13.2" fill="#85d14f"/><ellipse cx="917.9" cy="650.4" rx="0.9" ry="1.0" fill="#1c1c1c"/><ellipse cx="922.3" cy="650.4" rx="0.9" ry="1.0" fill="#1c1c1c"/><path d="M915.2 655.8Q920.1 658.9 925.1 655.8" stroke="#1c1c1c" stroke-width="1.4" fill="none" stroke-linecap="round"/><ellipse cx="958.3" cy="653.5" rx="12.6" ry="13.2" fill="#85d14f"/><ellipse cx="956.3" cy="650.4" rx="0.9" ry="1.0" fill="#1c1c1c"/><ellipse cx="960.7" cy="650.4" rx="0.9" ry="1.0" fill="#1c1c1c"/><path d="M953.6 655.8Q958.5 658.9 963.5 655.8" stroke="#1c1c1c" stroke-width="1.4" fill="none" stroke-linecap="round"/><ellipse cx="127.3" cy="512.5" rx="12.6" ry="13.2" fill="#85d14f"/><ellipse cx="125.3" cy="509.4" rx="0.9" ry="1.0" fill="#1c1c1c"/><ellipse cx="129.7" cy="509.4" rx="0.9" ry="1.0" fill="#1c1c1c"/><path d="M122.6 514.8Q127.5 517.9 132.5 514.8" stroke="#1c1c1c" stroke-width="1.4" fill="none" stroke-linecap="round"/><ellipse cx="191.2" cy="508.3" rx="12.6" ry="13.2" fill="#f89a87"/><circle cx="188.8" cy="505.0" r="1.05" fill="#1c1c1c"/><circle cx="193.8" cy="505.0" r="1.05" fill="#1c1c1c"/><path d="M186.6 512.6Q191.4 508.5 196.2 512.6" stroke="#1c1c1c" stroke-width="1.5" fill="none" stroke-linecap="round"/><ellipse cx="127.3" cy="544.6" rx="12.6" ry="13.2" fill="#85d14f"/><ellipse cx="125.3" cy="541.5" rx="0.9" ry="1.0" fill="#1c1c1c"/><ellipse cx="129.7" cy="541.5" rx="0.9" ry="1.0" fill="#1c1c1c"/><path d="M122.6 546.9Q127.5 550.0 132.5 546.9" stroke="#1c1c1c" stroke-width="1.4" fill="none" stroke-linecap="round"/><ellipse cx="158.9" cy="543.0" rx="12.6" ry="13.2" fill="#fcef2f"/><ellipse cx="157.1" cy="539.6" rx="0.75" ry="1.05" fill="#1c1c1c"/><ellipse cx="161.2" cy="539.6" rx="0.75" ry="1.05" fill="#1c1c1c"/><path d="M156.5 544.7L163.3 547.1" stroke="#1c1c1c" stroke-width="1.7" fill="none" stroke-linecap="round"/><ellipse cx="191.2" cy="543.0" rx="12.6" ry="13.2" fill="#f89a87"/><circle cx="188.8" cy="539.7" r="1.05" fill="#1c1c1c"/><circle cx="193.8" cy="539.7" r="1.05" fill="#1c1c1c"/><path d="M186.6 547.3Q191.4 543.2 196.2 547.3" stroke="#1c1c1c" stroke-width="1.5" fill="none" stroke-linecap="round"/><ellipse cx="125.4" cy="578.6" rx="12.6" ry="13.2" fill="#85d14f"/><ellipse cx="123.4" cy="575.5" rx="0.9" ry="1.0" fill="#1c1c1c"/><ellipse cx="127.8" cy="575.5" rx="0.9" ry="1.0" fill="#1c1c1c"/><path d="M120.7 580.9Q125.6 584.0 130.6 580.9" stroke="#1c1c1c" stroke-width="1.4" fill="none" stroke-linecap="round"/><ellipse cx="158.9" cy="578.6" rx="12.6" ry="13.2" fill="#fcef2f"/><ellipse cx="157.1" cy="575.2" rx="0.75" ry="1.05" fill="#1c1c1c"/><ellipse cx="161.2" cy="575.2" rx="0.75" ry="1.05" fill="#1c1c1c"/><path d="M156.5 580.3L163.3 582.7" stroke="#1c1c1c" stroke-width="1.7" fill="none" stroke-linecap="round"/><ellipse cx="191.2" cy="578.6" rx="12.6" ry="13.2" fill="#f89a87"/><circle cx="188.8" cy="575.3" r="1.05" fill="#1c1c1c"/><circle cx="193.8" cy="575.3" r="1.05" fill="#1c1c1c"/><path d="M186.6 582.9Q191.4 578.8 196.2 582.9" stroke="#1c1c1c" stroke-width="1.5" fill="none" stroke-linecap="round"/><ellipse cx="125.4" cy="613.7" rx="12.6" ry="13.2" fill="#85d14f"/><ellipse cx="123.4" cy="610.6" rx="0.9" ry="1.0" fill="#1c1c1c"/><ellipse cx="127.8" cy="610.6" rx="0.9" ry="1.0" fill="#1c1c1c"/><path d="M120.7 616.0Q125.6 619.1 130.6 616.0" stroke="#1c1c1c" stroke-width="1.4" fill="none" stroke-linecap="round"/><ellipse cx="158.9" cy="613.7" rx="12.6" ry="13.2" fill="#fcef2f"/><ellipse cx="157.1" cy="610.3" rx="0.75" ry="1.05" fill="#1c1c1c"/><ellipse cx="161.2" cy="610.3" rx="0.75" ry="1.05" fill="#1c1c1c"/><path d="M156.5 615.4L163.3 617.8" stroke="#1c1c1c" stroke-width="1.7" fill="none" stroke-linecap="round"/><ellipse cx="191.2" cy="613.7" rx="12.6" ry="13.2" fill="#f89a87"/><circle cx="188.8" cy="610.4" r="1.05" fill="#1c1c1c"/><circle cx="193.8" cy="610.4" r="1.05" fill="#1c1c1c"/><path d="M186.6 618.0Q191.4 613.9 196.2 618.0" stroke="#1c1c1c" stroke-width="1.5" fill="none" stroke-linecap="round"/><ellipse cx="125.4" cy="647.7" rx="12.6" ry="13.2" fill="#85d14f"/><ellipse cx="123.4" cy="644.6" rx="0.9" ry="1.0" fill="#1c1c1c"/><ellipse cx="127.8" cy="644.6" rx="0.9" ry="1.0" fill="#1c1c1c"/><path d="M120.7 650.0Q125.6 653.1 130.6 650.0" stroke="#1c1c1c" stroke-width="1.4" fill="none" stroke-linecap="round"/><ellipse cx="158.9" cy="645.4" rx="12.6" ry="13.2" fill="#fcef2f"/><ellipse cx="157.1" cy="642.0" rx="0.75" ry="1.05" fill="#1c1c1c"/><ellipse cx="161.2" cy="642.0" rx="0.75" ry="1.05" fill="#1c1c1c"/><path d="M156.5 647.1L163.3 649.5" stroke="#1c1c1c" stroke-width="1.7" fill="none" stroke-linecap="round"/><ellipse cx="191.2" cy="647.7" rx="12.6" ry="13.2" fill="#f89a87"/><circle cx="188.8" cy="644.4" r="1.05" fill="#1c1c1c"/><circle cx="193.8" cy="644.4" r="1.05" fill="#1c1c1c"/><path d="M186.6 652.0Q191.4 647.9 196.2 652.0" stroke="#1c1c1c" stroke-width="1.5" fill="none" stroke-linecap="round"/><ellipse cx="159.4" cy="508.3" rx="12.6" ry="13.2" fill="#fcef2f"/><circle cx="162.4" cy="513" r="0.6" fill="#333"/><ellipse cx="157.7" cy="501.0" rx="12.6" ry="13.2" fill="#fcef2f"/><ellipse cx="155.9" cy="497.6" rx="0.75" ry="1.05" fill="#1c1c1c"/><ellipse cx="160.0" cy="497.6" rx="0.75" ry="1.05" fill="#1c1c1c"/><path d="M155.3 502.7L162.1 505.1" stroke="#1c1c1c" stroke-width="1.7" fill="none" stroke-linecap="round"/></svg>
<svg class="a" style="left:214px;top:192px" width="80" height="150"><defs><filter id="nb0" x="-20%" y="-20%" width="140%" height="140%"><feGaussianBlur stdDeviation="2.6"/></filter><filter id="nc0" x="-20%" y="-20%" width="140%" height="140%"><feGaussianBlur stdDeviation="0.6"/></filter></defs><g filter="url(#nc0)"><rect x="5" y="7" width="62" height="30" fill="#f3f3f3"/><rect x="5" y="41.5" width="63" height="31.5" fill="#f3f3f3"/><rect x="7" y="79" width="63" height="31.5" fill="#f3f3f3"/><rect x="5" y="115" width="69" height="32" fill="#f0f0f2"/></g><g filter="url(#nb0)"><rect x="6" y="8" width="26" height="28" fill="#dcd8d8"/><ellipse cx="21" cy="22" rx="8.5" ry="13" fill="#a8705e"/><rect x="38" y="18" width="26" height="8" rx="4" fill="#bdbdbd"/><rect x="6" y="42.5" width="26" height="29.5" fill="#dedad8"/><ellipse cx="21" cy="58" rx="8.5" ry="12" fill="#c08f6c"/><ellipse cx="22" cy="47" rx="7" ry="4" fill="#8a7a70"/><rect x="6" y="66" width="22" height="6" fill="#8c94a6"/><rect x="40" y="54" width="26" height="8" rx="4" fill="#c2c2c2"/><rect x="8" y="80" width="26" height="29.5" fill="#e6dccb"/><ellipse cx="22" cy="90" rx="8" ry="10" fill="#d08a55"/><rect x="8" y="98" width="30" height="12" fill="#5a7fb2"/><rect x="42" y="89" width="26" height="8" rx="4" fill="#c0c0c0"/><rect x="6" y="116" width="30" height="30" fill="#9496a4"/><ellipse cx="22" cy="126" rx="7" ry="9" fill="#b0949c"/><rect x="8" y="134" width="28" height="12" fill="#3a70c0"/><rect x="44" y="126" width="26" height="8" rx="4" fill="#c8c8c8"/></g></svg><div class="a" style="left:221px;top:345px;width:29px;height:29px;background:linear-gradient(#dcd6d2,#d2cbc6);overflow:hidden;filter:blur(0.5px)"><div class="a" style="left:0;top:9px;width:29px;height:1px;background:#c6beb8"></div><div class="a" style="left:0;top:15px;width:29px;height:1px;background:#c6beb8"></div><div class="a" style="left:9.5px;top:4px;width:11px;height:16px;border-radius:45%;background:#c09078"></div><div class="a" style="left:9px;top:1.5px;width:12px;height:6px;border-radius:6px 6px 2px 2px;background:#2a2020"></div><div class="a" style="left:9px;top:4px;width:2px;height:6px;background:#2a2020"></div><div class="a" style="left:19px;top:4px;width:2px;height:6px;background:#2a2020"></div><div class="a" style="left:10px;top:9.5px;width:10px;height:2px;background:#3a2a28;opacity:.8"></div><div class="a" style="left:-2px;top:20px;width:33px;height:12px;border-radius:10px 10px 0 0;background:#262020"></div></div><div class="a" style="left:253px;top:353.5px;font-size:10px;font-weight:bold;color:#1f1f2e">Leo</div><svg class="a" style="left:214px;top:486px" width="80" height="150"><defs><filter id="nb294" x="-20%" y="-20%" width="140%" height="140%"><feGaussianBlur stdDeviation="2.6"/></filter><filter id="nc294" x="-20%" y="-20%" width="140%" height="140%"><feGaussianBlur stdDeviation="0.6"/></filter></defs><g filter="url(#nc294)"><rect x="5" y="7" width="62" height="30" fill="#f3f3f3"/><rect x="5" y="41.5" width="63" height="31.5" fill="#f3f3f3"/><rect x="7" y="79" width="63" height="31.5" fill="#f3f3f3"/><rect x="5" y="115" width="69" height="32" fill="#f0f0f2"/></g><g filter="url(#nb294)"><rect x="6" y="8" width="26" height="28" fill="#dcd8d8"/><ellipse cx="21" cy="22" rx="8.5" ry="13" fill="#a8705e"/><rect x="38" y="18" width="26" height="8" rx="4" fill="#bdbdbd"/><rect x="6" y="42.5" width="26" height="29.5" fill="#dedad8"/><ellipse cx="21" cy="58" rx="8.5" ry="12" fill="#c08f6c"/><ellipse cx="22" cy="47" rx="7" ry="4" fill="#8a7a70"/><rect x="6" y="66" width="22" height="6" fill="#8c94a6"/><rect x="40" y="54" width="26" height="8" rx="4" fill="#c2c2c2"/><rect x="8" y="80" width="26" height="29.5" fill="#e6dccb"/><ellipse cx="22" cy="90" rx="8" ry="10" fill="#d08a55"/><rect x="8" y="98" width="30" height="12" fill="#5a7fb2"/><rect x="42" y="89" width="26" height="8" rx="4" fill="#c0c0c0"/><rect x="6" y="116" width="30" height="30" fill="#9496a4"/><ellipse cx="22" cy="126" rx="7" ry="9" fill="#b0949c"/><rect x="8" y="134" width="28" height="12" fill="#3a70c0"/><rect x="44" y="126" width="26" height="8" rx="4" fill="#c8c8c8"/></g></svg><div class="a" style="left:221px;top:639px;width:29px;height:29px;background:linear-gradient(#dcd6d2,#d2cbc6);overflow:hidden;filter:blur(0.5px)"><div class="a" style="left:0;top:9px;width:29px;height:1px;background:#c6beb8"></div><div class="a" style="left:0;top:15px;width:29px;height:1px;background:#c6beb8"></div><div class="a" style="left:9.5px;top:4px;width:11px;height:16px;border-radius:45%;background:#c09078"></div><div class="a" style="left:9px;top:1.5px;width:12px;height:6px;border-radius:6px 6px 2px 2px;background:#2a2020"></div><div class="a" style="left:9px;top:4px;width:2px;height:6px;background:#2a2020"></div><div class="a" style="left:19px;top:4px;width:2px;height:6px;background:#2a2020"></div><div class="a" style="left:10px;top:9.5px;width:10px;height:2px;background:#3a2a28;opacity:.8"></div><div class="a" style="left:-2px;top:20px;width:33px;height:12px;border-radius:10px 10px 0 0;background:#262020"></div></div><div class="a" style="left:253px;top:647.5px;font-size:10px;font-weight:bold;color:#1f1f2e">Leo</div>
<!-- collaborator cursors -->
<svg class="ic" style="left:980px;top:490px" width="120" height="150">
 <path d="M18 7 L31 13 L20 19 Z" fill="#52cf94"/>
 <path d="M8 41 L21 47 L13 49 L10 55 Z" fill="#3b5bf2"/>
 <path d="M18 103 L31 108 L20 114 Z" fill="#f6b9c3"/>
 <path d="M18 106 Q19 91 34 90" stroke="#555" stroke-width="1" fill="none"/>
</svg>
<div class="a" style="left:1006px;top:512px;width:110px;height:19px;border-radius:10px;background:#50c47e"></div>
<div class="bl" style="left:1014px;top:517px;width:80px;height:9px;background:#3e9b65"></div>
<div class="a" style="left:1007px;top:607px;width:110px;height:20px;border-radius:10px;background:#f4c1c5"></div>
<div class="bl" style="left:1014px;top:612px;width:80px;height:9px;background:#d8a3a8"></div>
<div class="a" style="left:997px;top:547px;width:97px;height:19px;border-radius:10px;background:#4262ff;color:#fff;font-weight:bold;font-size:11.8px;line-height:20.5px;padding-left:8px;white-space:nowrap">Guest Creator</div>

<!-- ===== Browser chrome ===== -->
<div class="a" style="left:0;top:0;width:1366px;height:34px;background:#e2e5e9"></div>
<svg class="ic" style="left:0;top:0" width="260" height="34"><path d="M0 34 Q8 34 8 26 L8 8 Q8 0 16 0 L240 0 Q248 0 248 8 L248 26 Q248 34 256 34 Z" fill="#fff"/></svg>
<div class="a" style="left:20px;top:9px;width:16px;height:16px;border-radius:2px;background:#fbc82d">
 <svg width="16" height="16" style="position:absolute;left:0;top:0"><path d="M3.4 2 L6.4 2 L5 13.8 L2.6 13.8Z M7.3 2 L10.3 2 L8.8 13.8 L6.4 13.8Z M11.2 2 L14.2 2 L12.6 13.8 L10.2 13.8Z" fill="#17122a"/></svg>
</div>
<div class="a" style="left:44px;top:9px;width:176px;overflow:hidden;white-space:nowrap;font-size:11.7px;color:#3c4043;-webkit-mask-image:linear-gradient(90deg,#000 85%,transparent)">M3.0 Practices, Online Whiteboard for Visual Collaboration</div>
<svg class="ic" style="left:227px;top:12px" width="10" height="10"><path d="M1.5 1.3 L8.7 8.6 M8.7 1.3 L1.5 8.6" stroke="#5f6368" stroke-width="1.5"/></svg>
<svg class="ic" style="left:263px;top:10px" width="14" height="14"><path d="M7 1.5 V12.5 M1.5 7 H12.5" stroke="#3c4043" stroke-width="1.7"/></svg>

<div class="a" style="left:0;top:34px;width:1366px;height:36px;background:#fff"></div>
<div class="a" style="left:0;top:70px;width:1366px;height:1px;background:#d6d6d6"></div>
<svg class="ic" style="left:12px;top:44px" width="20" height="18"><path d="M3 9 H17 M9 3 L3 9 L9 15" stroke="#5f6368" stroke-width="1.8" fill="none"/></svg>
<svg class="ic" style="left:44px;top:44px" width="20" height="18"><path d="M2 9 H16 M10 3 L16 9 L10 15" stroke="#b9bcc0" stroke-width="1.8" fill="none"/></svg>
<svg class="ic" style="left:76px;top:43px" width="20" height="20"><path d="M15.2 7 A6.5 6.5 0 1 0 15.8 12" stroke="#5f6368" stroke-width="1.9" fill="none"/><path d="M11 2.5 L16.5 2.5 L16.5 8 Z" fill="#5f6368"/></svg>
<svg class="ic" style="left:108px;top:43px" width="20" height="18"><path d="M2 9 L10 1.5 L18 9 M4.5 7 V16.5 H15.5 V7" stroke="#5f6368" stroke-width="1.8" fill="none" stroke-linejoin="miter"/></svg>
<div class="a" style="left:140px;top:38px;width:1000px;height:28px;border-radius:14px;background:#f1f3f4"></div>
<svg class="ic" style="left:152px;top:44px" width="12" height="14"><path d="M3.5 6 V4.5 A2.5 2.5 0 0 1 8.5 4.5 V6" stroke="#5f6368" stroke-width="1.6" fill="none"/><rect x="2" y="6" width="8" height="6.5" rx="1" fill="#5f6368"/></svg>
<div class="a" style="left:174px;top:44.5px;font-size:14.35px;color:#5f6368;white-space:nowrap"><span style="color:#202124">miro.com</span>/app/board/o9J_kjyHr8M=/</div>

<!-- ===== Miro UI ===== -->
<div class="pn" style="left:8px;top:79px;width:324px;height:48px"></div>
<div class="a" style="left:23px;top:85.5px;font-family:'DejaVu Sans',sans-serif;font-size:27.5px;color:#0a0640;letter-spacing:1.1px;-webkit-text-stroke:0.6px #0a0640">miro</div>
<div class="a" style="left:104px;top:91px;width:1px;height:23px;background:#e3e3e8"></div>
<div class="a" style="left:121px;top:95px;font-size:15.5px;color:#050038;letter-spacing:0.8px;-webkit-text-stroke:0.35px #050038">M3.0</div>
<div class="a" style="left:164px;top:95px;font-size:15.5px;color:#050038;letter-spacing:1px;filter:blur(3px);opacity:.55;-webkit-text-stroke:0.4px #050038">Practices</div>
<svg class="ic" style="left:247px;top:95px" width="16" height="16"><path d="M8 1.5 L9.9 5.8 L14.5 6.2 L11 9.3 L12.1 13.8 L8 11.4 L3.9 13.8 L5 9.3 L1.5 6.2 L6.1 5.8 Z" stroke="#cdcdd4" stroke-width="1.3" fill="none" stroke-linejoin="round"/></svg>
<div class="a" style="left:275px;top:91px;width:1px;height:23px;background:#e3e3e8"></div>
<svg class="ic" style="left:294px;top:93px" width="20" height="20"><path d="M10 2 V13.7 M5.6 6.6 L10 1.8 L14.4 6.6 M2 13.2 V17.7 H18 V13.2" stroke="#050038" stroke-width="2" fill="none"/></svg>

<div class="pn" style="left:340px;top:79px;width:96px;height:48px"></div>
<svg class="ic" style="left:353px;top:96px" width="22" height="14"><path d="M19.2 10.6 C18 3.6 9.5 1.2 4.6 8.6" stroke="#050038" stroke-width="2.3" fill="none"/><path d="M3.6 3.6 V10.4 H9.9" stroke="#050038" stroke-width="2.3" fill="none"/></svg>
<div class="a" style="left:388px;top:91px;width:1px;height:23px;background:#e3e3e8"></div>
<svg class="ic" style="left:402px;top:96px" width="22" height="14"><path d="M2.8 10.6 C4 3.6 12.5 1.2 17.4 8.6" stroke="#cacad1" stroke-width="2.3" fill="none"/><path d="M18.4 3.6 V10.4 H12.1" stroke="#cacad1" stroke-width="2.3" fill="none"/></svg>

<div class="pn" style="left:832px;top:79px;width:188px;height:48px"></div>
<svg class="ic" style="left:846px;top:92px" width="26" height="22"><path d="M2 5 L15 11 L8.5 12.5 L5.5 19 Z" fill="#4262ff"/><path d="M11.5 3 H23 M15.5 7 H19.5" stroke="#4262ff" stroke-width="1.8"/></svg>
<div class="a" style="left:881px;top:89px;width:29px;height:29px;border-radius:50%;background:#8f9798;border:3px solid #f5c842;color:#fff;font-size:9px;font-weight:bold;text-align:center;line-height:23px;letter-spacing:0.5px">LZ</div>
<div class="a" style="left:918px;top:92px;width:1px;height:23px;background:#e3e3e8"></div>
<div class="a" style="left:923px;top:86px;width:56px;height:36px;overflow:hidden">
 <div class="a" style="left:3px;top:3px;width:30px;height:30px;border-radius:50%;background:#a3aab4;border:5px solid #94a0dc;filter:blur(2.6px)"></div>
 <div class="a" style="left:28px;top:3px;width:30px;height:30px;border-radius:50%;background:#a8b2aa;border:5px solid #8ec3a0;filter:blur(2.6px)"></div>
</div>
<div class="a" style="left:980px;top:90px;width:27px;height:27px;border-radius:50%;background:#fff;border:2px solid #ebebeb;color:#111;font-size:12.5px;font-weight:bold;text-align:center;line-height:24px">2</div>

<div class="pn" style="left:1028px;top:79px;width:120px;height:48px"></div>
<div class="a" style="left:1036px;top:87px;width:120px;height:32px;border-radius:4px;background:#4262ff"></div>
<svg class="ic" style="left:1044px;top:94px" width="22" height="18"><circle cx="8.2" cy="5.6" r="2.7" stroke="#fff" stroke-width="2" fill="none"/><circle cx="15.5" cy="5.8" r="2.3" stroke="#fff" stroke-width="2" fill="none"/><path d="M2.6 14.6 Q2.6 10.6 8 10.6 Q12.6 10.6 12.8 14.6 M15.2 10.6 Q19.5 10.6 19.5 14.6" stroke="#fff" stroke-width="2" fill="none" stroke-linecap="round"/></svg>
<div class="a" style="left:1068px;top:95px;font-size:13.5px;font-weight:bold;color:#fff">Share</div>

<!-- left toolbar -->
<div class="pn" style="left:8px;top:187px;width:56px;height:463px;box-shadow:0 2px 6px rgba(0,0,0,.08)"></div>
<svg class="ic" style="left:26px;top:208px" width="20" height="22"><path d="M5.1 1.6 L5.3 17.8 L9 14 L11.6 20.5 L13.8 19.5 L11.3 13.5 L16 12.5 Z" fill="#3d5cff" stroke="#3d5cff" stroke-width="0.6" stroke-linejoin="round"/></svg>
<svg class="ic" style="left:24px;top:247px" width="24" height="24"><rect x="3" y="3" width="18" height="18" stroke="#050038" stroke-width="2" fill="none"/><path d="M3 9 H21 M9 9 V21" stroke="#050038" stroke-width="2"/></svg>
<svg class="ic" style="left:24px;top:287px" width="24" height="24"><path d="M2.9 4.9 H19.9 M11.3 4.9 V20.9" stroke="#050038" stroke-width="2.4"/></svg>
<svg class="ic" style="left:24px;top:327px" width="24" height="24"><path d="M3 3 H21 V14 L14 21 H3 Z" stroke="#050038" stroke-width="2" fill="none" stroke-linejoin="round"/><path d="M21 14 L14 21 V14 Z" fill="#050038"/></svg>
<svg class="ic" style="left:24px;top:367px" width="24" height="24"><rect x="3" y="3" width="18" height="18" stroke="#050038" stroke-width="2" fill="none"/></svg>
<svg class="ic" style="left:24px;top:407px" width="24" height="24"><path d="M4 20 L18 6" stroke="#050038" stroke-width="2"/><path d="M20.5 3.5 L19 11 L13 5 Z" fill="#050038"/></svg>
<svg class="ic" style="left:24px;top:447px" width="24" height="24"><path d="M5.6 23.5 V16.5 L10.2 2.6 H13.8 L18.4 16.5 V23.5 M8.3 9 H15.7" stroke="#050038" stroke-width="2" fill="none" stroke-linejoin="round"/></svg>
<svg class="ic" style="left:24px;top:487px" width="24" height="24"><path d="M3.5 5.5 H20.6 V18.3 H14.6 L12 21 L9.4 18.3 H3.5 Z" stroke="#050038" stroke-width="2" fill="none" stroke-linejoin="round"/><path d="M7 9.8 H16.8 M7 13.9 H16.8" stroke="#050038" stroke-width="2"/></svg>
<svg class="ic" style="left:24px;top:527px" width="24" height="24"><path d="M4.8 2 V21.7 M18.9 2 V21.7 M1.1 6 H22.5 M1.1 17.9 H22.5" stroke="#050038" stroke-width="2"/></svg>
<svg class="ic" style="left:24px;top:567px" width="24" height="24"><path d="M8 19.6 H3 V3.3 H21 V19.6 H16" stroke="#050038" stroke-width="2" fill="none"/><path d="M12 22 V10 M8 13.5 L12 9.5 L16 13.5" stroke="#050038" stroke-width="2" fill="none"/></svg>
<svg class="ic" style="left:24px;top:613px" width="24" height="12"><circle cx="5" cy="6" r="2" fill="#050038"/><circle cx="12" cy="6" r="2" fill="#050038"/><circle cx="19" cy="6" r="2" fill="#050038"/></svg>
<div class="a" style="left:48px;top:603px;width:8px;height:8px;border-radius:50%;background:#4262ff"></div>

<!-- bottom toolbar -->
<div class="pn" style="left:8px;top:710px;width:456px;height:47.5px"></div>
<div class="a" style="left:14px;top:712px;width:96px;height:30px;border-radius:15px;background:radial-gradient(ellipse at 50% 50%,rgba(255,190,190,.22),rgba(255,200,200,0) 70%)"></div>
<div class="a" style="left:14px;top:736px;width:30px;height:22px;border-radius:11px;background:radial-gradient(ellipse at 50% 50%,rgba(255,190,190,.2),rgba(255,200,200,0) 70%)"></div>
<svg class="ic" style="left:24px;top:722px" width="24" height="24"><path d="M4.9 2.1 V21.5 M19 2.1 V21.5 M1.2 6 H23 M1.2 18.1 H23 M8 10 H15.6 M8 13.9 H15.6" stroke="#050038" stroke-width="2"/></svg>
<svg class="ic" style="left:64px;top:722px" width="24" height="24"><rect x="3.6" y="4.3" width="17.3" height="13.2" rx="1.5" stroke="#050038" stroke-width="2" fill="none"/><path d="M10 8 L14.3 10.8 L10 13.6 Z" fill="#050038"/><path d="M11.9 1 V4 M7 18.5 L5.5 22.5 M16.5 18.5 L18 22.5" stroke="#050038" stroke-width="1.8"/></svg>
<svg class="ic" style="left:104px;top:722px" width="24" height="24"><path d="M3.6 5.3 H20.7 V18.5 H14.6 L12 21.2 L9.4 18.5 H3.6 Z" stroke="#050038" stroke-width="2" fill="none" stroke-linejoin="round"/><path d="M6.5 9.9 H9 M10.5 9.9 H17.8 M6.5 14 H9 M10.5 14 H17.8" stroke="#050038" stroke-width="2"/></svg>
<svg class="ic" style="left:144px;top:722px" width="24" height="24"><path d="M8.8 9.7 V4.7 H22.2 V16.5 L20 14.6 H15 M1.8 22 V9.7 H14 V18.3 H4.5 Z" stroke="#050038" stroke-width="2" fill="none" stroke-linejoin="round"/></svg>
<svg class="ic" style="left:184px;top:722px" width="24" height="24"><rect x="3.5" y="4.7" width="6.8" height="5.3" stroke="#050038" stroke-width="2" fill="none"/><rect x="3.5" y="14.6" width="6.8" height="5.6" stroke="#050038" stroke-width="2" fill="none"/><path d="M14.4 4.7 H22.7 M14.4 9 H19.7 M14.4 14.7 H22.7 M14.4 19 H19.7" stroke="#050038" stroke-width="2"/></svg>
<svg class="ic" style="left:224px;top:722px" width="24" height="24"><path d="M11.2 3.6 H2.8 V18 H21.3 V13.6 M12.5 12.3 L21 3.9 M15.5 3.9 H21.3 V9.4 M6.3 20.9 H17.8" stroke="#050038" stroke-width="2" fill="none"/></svg>
<svg class="ic" style="left:264px;top:722px" width="24" height="24"><path d="M3.7 11 V21.5 M6.8 21.5 V11.2 L11.4 1.6 Q14.6 2.6 14.4 6.5 L14 9.2 Q21.4 10 21.4 15 Q21.4 21.5 15 21.5 Z" stroke="#050038" stroke-width="2" fill="none" stroke-linejoin="round"/></svg>
<svg class="ic" style="left:304px;top:722px" width="26" height="24"><rect x="1.6" y="5.3" width="14.7" height="13" rx="1.5" stroke="#050038" stroke-width="2" fill="none"/><path d="M16.3 9.6 L22.4 5.6 V18 L16.3 14" stroke="#050038" stroke-width="2" fill="none" stroke-linejoin="round"/><path d="M5 18.3 V22.5 M13 18.3 V22.5" stroke="#050038" stroke-width="2"/></svg>
<svg class="ic" style="left:344px;top:722px" width="24" height="24"><circle cx="12" cy="12" r="8.9" stroke="#050038" stroke-width="2" fill="none"/><path d="M12 0.3 V3.2 M12 12 L16.4 7.7" stroke="#050038" stroke-width="2"/><circle cx="12" cy="12" r="1.8" fill="#050038"/></svg>
<svg class="ic" style="left:384px;top:722px" width="24" height="24"><path d="M8.3 3.5 H15 L12.5 9.5 H18.6 L11.6 21 L12.4 12.3 H6.6 Z" stroke="#050038" stroke-width="2" fill="none" stroke-linejoin="round"/></svg>
<svg class="ic" style="left:428px;top:728px" width="18" height="12"><path d="M7.5 2.5 L3.8 6.1 L7.5 9.7 M13.5 2.5 L9.8 6.1 L13.5 9.7" stroke="#d2d2d9" stroke-width="1.8" fill="none"/></svg>

<!-- bottom black strip -->
<div class="a" style="left:0;top:765.5px;width:1097px;height:2.5px;background:#0c0c0c"></div>

<!-- ===== Zoom window ===== -->
<div class="a" style="left:1083px;top:0;width:13px;height:768px;background:linear-gradient(90deg,rgba(0,0,0,0),rgba(0,0,0,.07))"></div>
<div class="a" style="left:1096px;top:0;width:262px;height:768px;background:#1c1c1c;border-left:1px solid #8c8c8c;border-right:1px solid #6a6a6a"></div>
<div class="a" style="left:1097px;top:0;width:260px;height:31px;background:#fff;border-top:1px solid #8a8a8a"></div>
<div class="a" style="left:1106px;top:8px;width:14px;height:14px;border-radius:4px;background:#2d8cff"></div>
<svg class="ic" style="left:1106px;top:8px" width="14" height="14"><rect x="2.8" y="4.5" width="6" height="5" rx="1" fill="#fff"/><path d="M9 6.5 L11.5 4.8 V9.2 L9 7.5 Z" fill="#fff"/></svg>
<div class="a" style="left:1126px;top:9px;font-size:12px;color:#808080">Zoom Reunión</div>
<div class="a" style="left:1238px;top:15px;width:11px;height:1px;background:#777"></div>
<div class="a" style="left:1283px;top:10px;width:10px;height:10px;border:1px solid #777"></div>
<svg class="ic" style="left:1329px;top:10px" width="10" height="10"><path d="M0 0 L10 10 M10 0 L0 10" stroke="#777" stroke-width="1.1"/></svg>
<!-- right strip -->
<div class="a" style="left:1358px;top:0;width:8px;height:34px;background:#e2e5e9"></div>
<div class="a" style="left:1358px;top:34px;width:8px;height:36px;background:#fff"></div>
<div class="a" style="left:1358px;top:70px;width:8px;height:1px;background:#d6d6d6"></div>
<div class="a" style="left:1358px;top:71px;width:8px;height:697px;background:#f2f2f2"></div>
<div class="a" style="left:1358px;top:0;width:6px;height:768px;background:linear-gradient(90deg,rgba(0,0,0,.14),rgba(0,0,0,0))"></div>
<div class="a" style="left:1364px;top:0;width:2px;height:24px;background:#111"></div>
<div class="a" style="left:1364px;top:743px;width:2px;height:25px;background:#111"></div>

<!-- tile 1 -->
<svg class="a" style="left:1110px;top:80px" width="236" height="148">
<defs><filter id="f1" x="-10%" y="-10%" width="120%" height="120%"><feGaussianBlur stdDeviation="4"/></filter>
<linearGradient id="g1" x1="0" x2="0" y1="0" y2="1"><stop offset="0" stop-color="#e9e5dd"/><stop offset=".45" stop-color="#dcd4cb"/><stop offset="1" stop-color="#d2cac0"/></linearGradient></defs>
<g filter="url(#f1)">
<rect x="10" y="10" width="214" height="127" fill="url(#g1)"/>
<rect x="150" y="55" width="74" height="40" fill="#cbbfb6"/>
<rect x="14" y="40" width="62" height="72" rx="18" fill="#f7f6f2"/>
<rect x="10" y="108" width="56" height="29" fill="#4e4c4a"/>
<rect x="196" y="112" width="28" height="25" fill="#6e6a66"/>
<path d="M62 137 Q66 104 100 100 L146 100 Q180 104 190 137 Z" fill="#3a5a92"/>
<rect x="112" y="96" width="24" height="20" fill="#6b5a52"/>
<ellipse cx="122" cy="82" rx="20" ry="31" fill="#ad8e7c"/>
<ellipse cx="122" cy="100" rx="16" ry="11" fill="#5a463e"/>
<path d="M99 66 Q97 32 122 32 Q147 32 145 64 Q140 50 122 50 Q104 50 99 66 Z" fill="#2e2b29"/>
</g></svg>
<!-- tile 2 Leonel -->
<svg class="a" style="left:1123px;top:219px" width="208" height="116">
<defs><filter id="f2"><feGaussianBlur stdDeviation="1.1"/></filter>
<linearGradient id="g2" x1="0" x2="1"><stop offset="0" stop-color="#a8a8b1"/><stop offset=".25" stop-color="#bbbbc5"/><stop offset=".6" stop-color="#c2c2cc"/><stop offset="1" stop-color="#b3b3bd"/></linearGradient></defs>
<rect width="208" height="116" fill="url(#g2)"/>
<g filter="url(#f2)">
<path d="M45 116 L45 96 Q52 86 80 86 L96 87 L124 88 Q160 88 170 100 L175 116 Z" fill="#7a7775"/>
<rect x="92" y="95" width="34" height="21" fill="#4d3d38"/>
<linearGradient id="sk2" x1="0" y1="0" x2="0" y2="1"><stop offset="0" stop-color="#8a6552"/><stop offset=".6" stop-color="#7c5a4a"/><stop offset="1" stop-color="#6a4a40"/></linearGradient><path d="M80 62 Q80 34 106 34 Q132 34 132 62 Q132 84 122 98 Q114 107 106 107 Q97 107 90 98 Q80 86 80 62 Z" fill="url(#sk2)"/><path d="M84 54 Q92 50 99 53 M108 53 Q118 50 128 54" stroke="#2a1c18" stroke-width="2.2" fill="none"/>
<path d="M78 62 Q78 24 94 17 Q112 11 128 16 Q140 24 140 48 L140 74 L134 74 Q134 48 128 40 Q108 35 88 41 Q83 47 82 58 Z" fill="#1d181a"/>
<rect x="81" y="59" width="18" height="18" rx="4" fill="none" stroke="#1a1416" stroke-width="2"/><rect x="105" y="59" width="26" height="18" rx="4" fill="none" stroke="#1a1416" stroke-width="2"/><path d="M99 63 H105" stroke="#1a1416" stroke-width="2"/>
<path d="M76 68 Q74 80 82 88" stroke="#1d181a" stroke-width="1.6" fill="none"/>
<circle cx="83" cy="89" r="3.5" fill="#1d181a"/>
</g>
<rect x="0" y="95.5" width="87" height="20.5" fill="rgba(58,56,56,.72)"/>
<text x="4.2" y="110" font-family="Liberation Sans, sans-serif" font-size="12.7" fill="#fff">Leonel Zapien</text>
</svg>
<!-- tile 3 -->
<svg class="a" style="left:1112px;top:328px" width="232" height="140">
<defs><filter id="f3" x="-10%" y="-10%" width="120%" height="120%"><feGaussianBlur stdDeviation="3.5"/></filter>
<linearGradient id="g3" x1="0" x2="1"><stop offset="0" stop-color="#d9dddd"/><stop offset=".5" stop-color="#d3d2d0"/><stop offset="1" stop-color="#cfcbc8"/></linearGradient></defs>
<g filter="url(#f3)">
<rect x="10" y="10" width="211" height="119" fill="url(#g3)"/>
<rect x="10" y="96" width="110" height="10" fill="#ebe7e0"/>
<rect x="10" y="108" width="115" height="21" fill="#67625d"/>
<path d="M112 129 L116 60 Q118 28 150 28 Q184 28 188 62 L200 129 Z" fill="#4d3628"/>
<ellipse cx="148" cy="77" rx="24" ry="29" fill="#9c7664"/>
<rect x="128" y="110" width="52" height="19" fill="#2a201b"/>
<path d="M126 71 H170" stroke="#5a4038" stroke-width="3"/>
</g></svg>
<!-- tile 4 -->
<svg class="a" style="left:1121px;top:458px" width="212" height="123">
<defs><filter id="f4" x="-10%" y="-10%" width="120%" height="120%"><feGaussianBlur stdDeviation="3.5"/></filter>
<linearGradient id="g4" x1="0" x2="1"><stop offset="0" stop-color="#ebe4d6"/><stop offset=".3" stop-color="#cdc2ae"/><stop offset=".75" stop-color="#b3a895"/><stop offset="1" stop-color="#8f8676"/></linearGradient></defs>
<rect width="212" height="123" fill="#222"/>
<g filter="url(#f4)">
<rect x="26" y="4" width="159" height="115" fill="url(#g4)"/>
<ellipse cx="40" cy="30" rx="10" ry="22" fill="#f4f1ea"/>
<path d="M120 119 L150 80 L185 95 L185 119 Z" fill="#d9cfbd"/>
<path d="M26 119 L26 95 Q60 82 110 88 Q130 100 138 119 Z" fill="#2c2c33"/>
<ellipse cx="101" cy="72" rx="17" ry="25" fill="#a08c88"/>
<path d="M84 62 Q84 36 103 36 Q122 36 122 58 Q112 48 100 50 Q90 52 84 62 Z" fill="#2a2522"/>
<rect x="4" y="102" width="70" height="17" fill="#2f2f2f"/>
<rect x="7" y="104" width="10" height="13" fill="#a83428"/>
</g></svg>
<!-- tile 5 -->
<svg class="a" style="left:1108px;top:573px" width="238" height="148">
<defs><filter id="f5" x="-10%" y="-10%" width="120%" height="120%"><feGaussianBlur stdDeviation="3.2"/></filter>
<linearGradient id="g5" x1="0" x2="1"><stop offset="0" stop-color="#e2ecd6"/><stop offset=".1" stop-color="#eef0e4"/><stop offset=".14" stop-color="#7d6b5b"/><stop offset=".19" stop-color="#d3c3a8"/><stop offset=".68" stop-color="#d6c8ae"/><stop offset=".74" stop-color="#f1eee2"/><stop offset="1" stop-color="#f3f1e8"/></linearGradient></defs>
<g filter="url(#f5)">
<rect x="8" y="8" width="222" height="129" fill="#b2b46c"/>
<rect x="12" y="12" width="214" height="121" fill="url(#g5)"/>
<path d="M55 131 Q62 95 110 88 L140 88 Q172 92 182 131 Z" fill="#4b5aa0"/>
<ellipse cx="110" cy="68" rx="21" ry="28" fill="#c38f8b"/>
<path d="M92 76 Q96 104 112 104 Q130 104 134 74 L130 90 Q112 96 96 90 Z" fill="#3c2526"/>
<path d="M86 60 Q84 28 116 28 Q146 28 150 56 L152 84 L140 86 Q140 52 126 46 Q104 42 92 66 Z" fill="#2b1d1e"/>
<ellipse cx="145" cy="72" rx="9" ry="16" fill="#3a3532"/>
<circle cx="145" cy="72" r="4" fill="#7a7876"/>
<rect x="183" y="104" width="36" height="24" rx="8" fill="#201817"/>
<rect x="12" y="112" width="214" height="19" fill="rgba(110,110,80,.35)"/>
</g></svg>
</body></html>
